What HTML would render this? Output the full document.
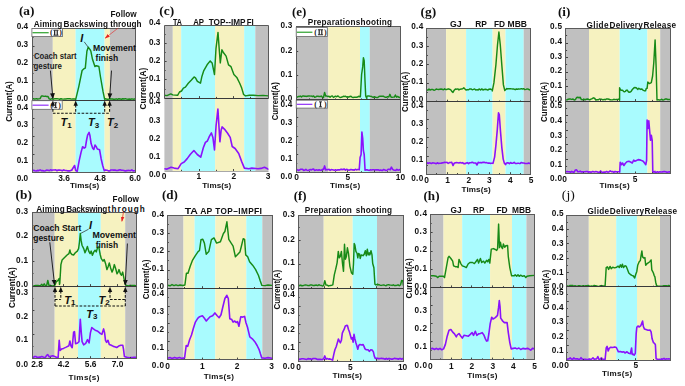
<!DOCTYPE html>
<html><head><meta charset="utf-8"><style>
html,body{margin:0;padding:0;background:#fff;}
#w{position:relative;width:685px;height:386px;overflow:hidden;}
svg{display:block;position:absolute;left:0;top:0;}
svg.t{will-change:transform;}
</style></head><body>
<div id="w">
<svg class="m" width="685" height="386" viewBox="0 0 685 386">
<rect width="685" height="386" fill="#fff"/>
<rect x="32.30" y="28.40" width="20.50" height="143.80" fill="#c0c0c0"/>
<rect x="52.80" y="28.40" width="22.80" height="143.80" fill="#f6f2c0"/>
<rect x="75.60" y="28.40" width="29.00" height="143.80" fill="#a9fbfe"/>
<rect x="104.60" y="28.40" width="5.30" height="143.80" fill="#f6f2c0"/>
<rect x="109.90" y="28.40" width="25.70" height="143.80" fill="#c0c0c0"/>
<clipPath id="cta"><rect x="32.3" y="28.4" width="103.3" height="71.80000000000001"/></clipPath>
<clipPath id="cba"><rect x="32.3" y="100.2" width="103.3" height="71.99999999999999"/></clipPath>
<g clip-path="url(#cta)">
<polyline points="32.30,98.86 33.60,98.72 34.90,99.12 36.20,98.66 37.50,99.03 38.80,98.89 40.10,98.65 41.40,96.03 42.70,96.06 44.00,96.34 45.30,96.10 46.60,96.50 47.90,96.46 49.20,98.92 50.50,99.38 51.80,98.64 53.10,99.29 54.40,98.83 55.70,98.72 57.00,98.69 58.30,98.85 59.60,99.25 60.90,98.74 62.20,99.07 63.50,99.11 64.80,98.90 66.10,99.04 67.40,98.65 68.70,98.65 70.00,98.76 71.30,99.14 72.60,98.94 73.90,98.85 75.20,99.07 75.60,99.00 75.60,99.80 78.80,86.60 82.10,70.50 83.70,68.90 85.30,68.10 86.90,51.30 88.20,47.20 90.10,49.60 90.90,51.30 92.50,59.30 94.90,66.50 96.50,65.70 98.90,66.50 100.50,77.00 103.00,91.40 104.60,99.20 104.60,98.96 105.90,98.84 107.20,99.24 108.50,99.16 109.80,98.80 111.10,99.06 112.40,99.02 113.70,99.30 115.00,99.18 116.30,98.83 117.60,99.38 118.90,98.69 120.20,98.93 121.50,99.21 122.80,98.72 124.10,98.99 125.40,98.63 126.70,99.13 128.00,99.21 129.30,99.06 130.60,99.30 131.90,98.85 133.20,99.16 134.50,99.08 135.60,99.00" fill="none" stroke="#178a17" stroke-width="1.45" stroke-linejoin="round" stroke-linecap="round"/>
</g>
<g clip-path="url(#cba)">
<polyline points="32.30,170.50 33.60,170.35 34.90,170.81 36.20,170.93 37.50,170.37 38.80,170.60 40.10,169.87 41.40,170.64 42.70,170.58 44.00,170.99 45.30,170.79 46.60,170.14 47.90,170.26 49.20,170.60 50.50,169.83 51.80,170.35 53.10,170.00 54.40,169.94 55.70,169.87 57.00,170.72 58.30,169.96 59.60,170.10 60.90,170.27 62.20,170.85 63.50,169.90 64.80,170.34 66.10,170.46 67.40,170.86 68.70,170.78 70.00,170.84 71.30,170.13 71.80,170.40 71.80,170.00 74.60,165.50 75.70,170.50 77.20,171.40 79.20,160.60 81.10,152.10 82.60,146.70 84.20,148.20 85.40,147.40 86.50,140.50 87.60,135.10 89.10,132.40 90.00,135.80 91.10,143.60 92.70,148.20 93.80,149.50 95.00,145.10 96.20,146.70 97.30,149.00 99.60,149.80 101.20,159.00 102.70,165.50 104.30,170.70 105.80,169.90 105.80,170.30 107.10,170.23 108.40,170.86 109.70,170.95 111.00,169.98 112.30,170.01 113.60,170.08 114.90,170.08 116.20,170.38 117.50,170.51 118.80,170.12 120.10,169.80 121.40,170.30 122.70,170.24 124.00,170.48 125.30,170.94 126.60,170.63 127.90,170.42 129.20,170.54 130.50,170.61 131.80,169.86 133.10,170.88 134.40,170.74 135.60,170.40" fill="none" stroke="#8a12fc" stroke-width="1.6" stroke-linejoin="round" stroke-linecap="round"/>
</g>
<line x1="32.30" y1="37.5" x2="33.60" y2="37.5" stroke="#333" stroke-width="0.9"/>
<line x1="32.30" y1="46.5" x2="34.50" y2="46.5" stroke="#333" stroke-width="0.9"/>
<line x1="32.30" y1="55.5" x2="33.60" y2="55.5" stroke="#333" stroke-width="0.9"/>
<line x1="32.30" y1="64.5" x2="34.50" y2="64.5" stroke="#333" stroke-width="0.9"/>
<line x1="32.30" y1="73.5" x2="33.60" y2="73.5" stroke="#333" stroke-width="0.9"/>
<line x1="32.30" y1="82.5" x2="34.50" y2="82.5" stroke="#333" stroke-width="0.9"/>
<line x1="32.30" y1="91.5" x2="33.60" y2="91.5" stroke="#333" stroke-width="0.9"/>
<line x1="32.30" y1="109.5" x2="33.60" y2="109.5" stroke="#333" stroke-width="0.9"/>
<line x1="32.30" y1="118.5" x2="34.50" y2="118.5" stroke="#333" stroke-width="0.9"/>
<line x1="32.30" y1="127.5" x2="33.60" y2="127.5" stroke="#333" stroke-width="0.9"/>
<line x1="32.30" y1="136.5" x2="34.50" y2="136.5" stroke="#333" stroke-width="0.9"/>
<line x1="32.30" y1="145.5" x2="33.60" y2="145.5" stroke="#333" stroke-width="0.9"/>
<line x1="32.30" y1="154.5" x2="34.50" y2="154.5" stroke="#333" stroke-width="0.9"/>
<line x1="32.30" y1="163.5" x2="33.60" y2="163.5" stroke="#333" stroke-width="0.9"/>
<rect x="32.5" y="28.5" width="103.0" height="144.0" fill="none" stroke="#5a5a5a" stroke-width="1"/>
<line x1="32.5" y1="100.5" x2="135.5" y2="100.5" stroke="#3a3a3a" stroke-width="1"/>
<rect x="164.40" y="25.40" width="8.40" height="145.60" fill="#c0c0c0"/>
<rect x="172.80" y="25.40" width="8.40" height="145.60" fill="#f6f2c0"/>
<rect x="181.20" y="25.40" width="33.90" height="145.60" fill="#a9fbfe"/>
<rect x="215.10" y="25.40" width="29.10" height="145.60" fill="#f6f2c0"/>
<rect x="244.20" y="25.40" width="11.10" height="145.60" fill="#a9fbfe"/>
<rect x="255.30" y="25.40" width="13.10" height="145.60" fill="#c0c0c0"/>
<clipPath id="ctc"><rect x="164.4" y="25.4" width="103.99999999999997" height="72.69999999999999"/></clipPath>
<clipPath id="cbc"><rect x="164.4" y="98.1" width="103.99999999999997" height="72.9"/></clipPath>
<g clip-path="url(#ctc)">
<polyline points="164.40,95.30 167.00,95.60 170.80,93.90 172.70,94.90 177.60,95.30 179.50,92.00 181.50,91.00 183.40,88.10 185.40,87.10 188.30,83.20 191.20,80.30 194.10,77.00 195.50,77.80 197.40,81.30 200.50,83.20 201.90,76.40 203.80,70.60 207.10,64.80 210.20,60.90 212.10,62.90 214.50,74.50 216.00,48.30 218.00,32.40 219.30,50.20 220.30,62.90 221.90,49.80 223.20,52.20 226.10,56.10 228.50,64.80 231.00,66.70 233.90,74.50 236.80,77.40 239.70,83.20 241.70,88.10 243.60,94.50 245.50,95.90 249.40,95.30 253.30,95.30 258.00,95.60 263.00,95.40 268.40,95.90" fill="none" stroke="#178a17" stroke-width="1.45" stroke-linejoin="round" stroke-linecap="round"/>
</g>
<g clip-path="url(#cbc)">
<polyline points="164.40,168.70 167.00,169.10 171.10,167.30 174.10,168.10 178.10,168.70 181.20,163.60 184.20,162.00 187.20,158.60 190.20,154.50 193.90,150.50 197.30,154.50 200.70,157.20 203.40,147.50 205.40,142.40 207.40,141.00 209.40,136.40 211.40,132.90 212.90,137.40 214.50,149.90 216.10,125.30 217.90,109.10 218.90,125.30 219.90,141.80 221.10,130.30 222.10,126.90 224.60,129.30 227.60,133.30 230.20,137.40 232.20,146.50 235.10,148.50 238.70,153.50 241.70,161.60 244.40,168.10 248.80,168.70 251.80,168.10 257.90,168.70 261.00,168.40 264.50,167.30 268.40,169.30" fill="none" stroke="#8a12fc" stroke-width="1.6" stroke-linejoin="round" stroke-linecap="round"/>
</g>
<line x1="164.40" y1="34.5" x2="165.70" y2="34.5" stroke="#333" stroke-width="0.9"/>
<line x1="164.40" y1="43.5" x2="166.60" y2="43.5" stroke="#333" stroke-width="0.9"/>
<line x1="164.40" y1="52.5" x2="165.70" y2="52.5" stroke="#333" stroke-width="0.9"/>
<line x1="164.40" y1="61.5" x2="166.60" y2="61.5" stroke="#333" stroke-width="0.9"/>
<line x1="164.40" y1="70.5" x2="165.70" y2="70.5" stroke="#333" stroke-width="0.9"/>
<line x1="164.40" y1="79.5" x2="166.60" y2="79.5" stroke="#333" stroke-width="0.9"/>
<line x1="164.40" y1="89.5" x2="165.70" y2="89.5" stroke="#333" stroke-width="0.9"/>
<line x1="199.5" y1="171" x2="199.5" y2="169.0" stroke="#333" stroke-width="0.9"/>
<line x1="199.5" y1="98.1" x2="199.5" y2="96.1" stroke="#333" stroke-width="0.9"/>
<line x1="233.5" y1="171" x2="233.5" y2="169.0" stroke="#333" stroke-width="0.9"/>
<line x1="233.5" y1="98.1" x2="233.5" y2="96.1" stroke="#333" stroke-width="0.9"/>
<line x1="181.5" y1="171" x2="181.5" y2="169.8" stroke="#333" stroke-width="0.9"/>
<line x1="181.5" y1="98.1" x2="181.5" y2="96.89999999999999" stroke="#333" stroke-width="0.9"/>
<line x1="216.5" y1="171" x2="216.5" y2="169.8" stroke="#333" stroke-width="0.9"/>
<line x1="216.5" y1="98.1" x2="216.5" y2="96.89999999999999" stroke="#333" stroke-width="0.9"/>
<line x1="250.5" y1="171" x2="250.5" y2="169.8" stroke="#333" stroke-width="0.9"/>
<line x1="250.5" y1="98.1" x2="250.5" y2="96.89999999999999" stroke="#333" stroke-width="0.9"/>
<path d="M164.5,98.5 V25.5 H268.5 V98.5" fill="none" stroke="#5a5a5a" stroke-width="1"/>
<path d="M164.5,171.5 H268.5" fill="none" stroke="#a8a8a8" stroke-width="1"/>
<line x1="164.5" y1="98.5" x2="268.5" y2="98.5" stroke="#3a3a3a" stroke-width="1"/>
<rect x="296.00" y="26.70" width="32.30" height="145.70" fill="#c0c0c0"/>
<rect x="328.30" y="26.70" width="31.70" height="145.70" fill="#f6f2c0"/>
<rect x="360.00" y="26.70" width="9.80" height="145.70" fill="#a9fbfe"/>
<rect x="369.80" y="26.70" width="30.60" height="145.70" fill="#c0c0c0"/>
<clipPath id="cte"><rect x="296" y="26.7" width="104.39999999999998" height="72.89999999999999"/></clipPath>
<clipPath id="cbe"><rect x="296" y="99.6" width="104.39999999999998" height="72.80000000000001"/></clipPath>
<g clip-path="url(#cte)">
<polyline points="296.00,97.30 297.10,97.18 298.20,96.53 299.30,96.54 300.40,96.07 301.50,96.91 302.60,96.00 303.70,96.01 304.80,96.23 305.90,96.16 307.00,96.44 308.10,95.98 309.20,95.90 310.30,96.14 311.40,96.06 312.50,96.48 313.60,95.94 314.70,97.30 315.80,96.88 316.90,96.14 318.00,96.30 319.10,96.46 320.20,96.48 321.30,96.10 322.40,97.26 323.50,97.49 324.60,92.47 325.70,96.04 326.80,96.06 327.90,96.45 329.00,96.32 330.10,97.23 331.20,96.16 332.30,95.94 333.40,97.42 334.50,96.75 335.60,96.13 336.70,96.77 337.80,95.94 338.90,96.74 340.00,97.47 341.10,97.28 342.20,97.01 343.30,96.32 344.40,96.49 345.50,96.17 346.60,97.14 347.70,96.75 348.80,97.15 349.90,96.43 351.00,96.26 352.10,97.20 353.20,97.48 354.30,97.26 355.40,97.19 356.50,97.21 357.60,97.08 358.70,96.26 359.80,96.73 360.40,96.70 360.40,96.50 361.60,74.50 362.70,66.90 363.40,57.70 364.20,60.70 365.00,80.70 365.70,96.00 366.80,98.40 366.80,96.47 367.90,95.95 369.00,95.94 370.10,96.35 371.20,96.31 372.30,97.01 373.40,97.43 374.50,96.62 375.60,97.40 376.70,97.48 377.80,97.43 378.90,96.48 380.00,96.25 381.10,96.26 382.20,96.21 383.30,96.23 384.40,96.90 385.50,97.34 386.60,97.24 387.70,96.67 388.80,96.94 389.90,94.34 391.00,96.96 392.10,97.36 393.20,97.15 394.30,97.10 395.40,94.99 396.50,97.16 397.60,96.43 398.70,97.18 399.80,97.45 400.40,96.70" fill="none" stroke="#178a17" stroke-width="1.45" stroke-linejoin="round" stroke-linecap="round"/>
</g>
<g clip-path="url(#cbe)">
<polyline points="296.00,169.65 297.10,169.66 298.20,170.43 299.30,170.11 300.40,169.34 301.50,169.28 302.60,169.31 303.70,170.37 304.80,170.23 305.90,169.30 307.00,170.26 308.10,170.47 309.20,170.02 310.30,169.59 311.40,169.87 312.50,169.28 313.60,169.12 314.70,170.46 315.80,170.01 316.90,169.84 318.00,170.41 319.10,169.71 320.20,170.32 321.30,170.26 322.40,169.40 323.50,169.45 324.60,165.94 325.70,169.92 326.80,169.46 327.90,169.69 329.00,169.28 330.10,170.37 331.20,169.60 332.30,169.74 333.40,169.92 334.50,170.37 335.60,169.69 336.70,170.38 337.80,169.80 338.90,169.84 340.00,169.83 341.10,169.13 342.20,169.72 343.30,169.36 344.40,169.11 345.50,170.22 346.60,169.34 347.70,169.76 348.80,170.12 349.90,169.88 351.00,169.56 352.10,169.83 353.20,169.88 354.30,170.20 355.40,169.25 356.50,169.88 357.60,169.45 358.70,169.49 359.20,169.80 359.20,169.80 360.10,157.60 361.10,154.50 361.90,132.00 362.70,138.40 363.40,150.70 364.20,154.50 365.00,169.00 365.00,170.18 366.10,169.81 367.20,169.89 368.30,170.16 369.40,170.38 370.50,169.72 371.60,169.96 372.70,169.81 373.80,169.82 374.90,170.07 376.00,169.73 377.10,169.85 378.20,169.77 379.30,170.42 380.40,170.08 381.50,170.33 382.60,170.42 383.70,169.46 384.80,169.88 385.90,170.42 387.00,170.28 388.10,169.29 389.20,169.27 390.30,169.72 391.40,167.14 392.50,169.20 393.60,170.04 394.70,170.20 395.80,170.36 396.90,169.32 398.00,170.10 399.10,170.02 400.20,169.30 400.40,169.80" fill="none" stroke="#8a12fc" stroke-width="1.6" stroke-linejoin="round" stroke-linecap="round"/>
</g>
<line x1="296.00" y1="38.5" x2="297.30" y2="38.5" stroke="#333" stroke-width="0.9"/>
<line x1="296.00" y1="51.5" x2="298.20" y2="51.5" stroke="#333" stroke-width="0.9"/>
<line x1="296.00" y1="63.5" x2="297.30" y2="63.5" stroke="#333" stroke-width="0.9"/>
<line x1="296.00" y1="75.5" x2="298.20" y2="75.5" stroke="#333" stroke-width="0.9"/>
<line x1="296.00" y1="87.5" x2="297.30" y2="87.5" stroke="#333" stroke-width="0.9"/>
<line x1="296.00" y1="108.5" x2="297.30" y2="108.5" stroke="#333" stroke-width="0.9"/>
<line x1="296.00" y1="117.5" x2="298.20" y2="117.5" stroke="#333" stroke-width="0.9"/>
<line x1="296.00" y1="126.5" x2="297.30" y2="126.5" stroke="#333" stroke-width="0.9"/>
<line x1="296.00" y1="136.5" x2="298.20" y2="136.5" stroke="#333" stroke-width="0.9"/>
<line x1="296.00" y1="145.5" x2="297.30" y2="145.5" stroke="#333" stroke-width="0.9"/>
<line x1="296.00" y1="154.5" x2="298.20" y2="154.5" stroke="#333" stroke-width="0.9"/>
<line x1="296.00" y1="163.5" x2="297.30" y2="163.5" stroke="#333" stroke-width="0.9"/>
<line x1="322.5" y1="172.4" x2="322.5" y2="170.4" stroke="#333" stroke-width="0.9"/>
<line x1="322.5" y1="99.6" x2="322.5" y2="97.6" stroke="#333" stroke-width="0.9"/>
<line x1="347.5" y1="172.4" x2="347.5" y2="170.4" stroke="#333" stroke-width="0.9"/>
<line x1="347.5" y1="99.6" x2="347.5" y2="97.6" stroke="#333" stroke-width="0.9"/>
<line x1="374.5" y1="172.4" x2="374.5" y2="170.4" stroke="#333" stroke-width="0.9"/>
<line x1="374.5" y1="99.6" x2="374.5" y2="97.6" stroke="#333" stroke-width="0.9"/>
<line x1="309.5" y1="172.4" x2="309.5" y2="171.20000000000002" stroke="#333" stroke-width="0.9"/>
<line x1="309.5" y1="99.6" x2="309.5" y2="98.39999999999999" stroke="#333" stroke-width="0.9"/>
<line x1="335.5" y1="172.4" x2="335.5" y2="171.20000000000002" stroke="#333" stroke-width="0.9"/>
<line x1="335.5" y1="99.6" x2="335.5" y2="98.39999999999999" stroke="#333" stroke-width="0.9"/>
<line x1="361.5" y1="172.4" x2="361.5" y2="171.20000000000002" stroke="#333" stroke-width="0.9"/>
<line x1="361.5" y1="99.6" x2="361.5" y2="98.39999999999999" stroke="#333" stroke-width="0.9"/>
<line x1="387.5" y1="172.4" x2="387.5" y2="171.20000000000002" stroke="#333" stroke-width="0.9"/>
<line x1="387.5" y1="99.6" x2="387.5" y2="98.39999999999999" stroke="#333" stroke-width="0.9"/>
<rect x="296.5" y="26.5" width="104.0" height="146.0" fill="none" stroke="#5a5a5a" stroke-width="1"/>
<line x1="296.5" y1="99.5" x2="400.5" y2="99.5" stroke="#3a3a3a" stroke-width="1"/>
<rect x="426.60" y="28.00" width="19.50" height="146.20" fill="#c0c0c0"/>
<rect x="446.10" y="28.00" width="20.00" height="146.20" fill="#f6f2c0"/>
<rect x="466.10" y="28.00" width="26.50" height="146.20" fill="#a9fbfe"/>
<rect x="492.60" y="28.00" width="12.90" height="146.20" fill="#f6f2c0"/>
<rect x="505.50" y="28.00" width="18.20" height="146.20" fill="#a9fbfe"/>
<rect x="523.70" y="28.00" width="7.10" height="146.20" fill="#c0c0c0"/>
<clipPath id="ctg"><rect x="426.6" y="28" width="104.19999999999993" height="73.7"/></clipPath>
<clipPath id="cbg"><rect x="426.6" y="101.7" width="104.19999999999993" height="72.49999999999999"/></clipPath>
<g clip-path="url(#ctg)">
<polyline points="426.60,90.04 427.80,90.15 429.00,89.11 430.20,90.13 431.40,89.36 432.60,89.48 433.80,90.19 435.00,89.97 436.20,89.03 437.40,89.40 438.60,89.52 439.80,89.27 441.00,89.07 442.20,89.25 443.40,89.81 444.60,88.83 445.80,89.58 447.00,89.42 448.20,88.83 449.40,89.26 450.60,89.67 451.80,91.39 453.00,92.40 454.20,90.16 455.40,88.95 456.60,89.17 457.80,88.86 459.00,89.89 460.20,89.18 461.40,88.98 462.60,88.78 463.80,87.86 465.00,89.01 466.20,90.09 467.40,89.60 468.60,89.78 469.80,88.93 471.00,88.88 472.20,89.76 473.40,89.40 474.60,88.90 475.80,90.11 477.00,89.69 478.20,89.92 479.40,88.92 480.60,90.00 481.80,88.89 483.00,90.01 484.20,89.44 485.40,89.27 486.60,89.57 487.80,90.10 489.00,89.18 490.20,88.98 491.40,89.54 492.30,89.50 492.30,90.90 493.90,82.90 495.90,64.90 497.50,45.00 498.90,32.00 500.30,45.00 501.80,64.90 503.40,84.90 504.80,90.50 506.80,88.50 506.80,88.93 508.00,88.75 509.20,88.83 510.40,88.67 511.60,88.88 512.80,89.04 514.00,89.03 515.20,89.66 516.40,89.01 517.60,89.30 518.80,88.85 520.00,89.09 521.20,88.63 522.40,88.95 523.60,88.62 524.80,89.63 526.00,89.37 527.20,88.87 528.40,89.26 529.60,89.91 530.80,89.30" fill="none" stroke="#178a17" stroke-width="1.45" stroke-linejoin="round" stroke-linecap="round"/>
</g>
<g clip-path="url(#cbg)">
<polyline points="426.60,162.45 427.80,163.45 429.00,162.91 430.20,162.99 431.40,163.47 432.60,162.85 433.80,163.01 435.00,163.26 436.20,163.68 437.40,162.78 438.60,163.47 439.80,163.29 441.00,163.19 442.20,162.87 443.40,162.79 444.60,162.38 445.80,162.48 447.00,162.40 448.20,163.34 449.40,162.66 450.60,162.53 451.80,162.42 453.00,165.52 454.20,163.24 455.40,162.69 456.60,162.64 457.80,162.71 459.00,162.94 460.20,162.52 461.40,162.92 462.60,162.67 463.80,163.65 465.00,163.66 466.20,163.07 467.40,162.64 468.60,163.65 469.80,162.73 471.00,162.80 472.20,162.30 473.40,162.83 474.60,162.96 475.80,163.00 477.00,165.01 478.20,162.31 479.40,162.67 480.60,162.43 481.80,162.86 483.00,162.36 484.20,162.33 485.40,162.73 486.60,162.63 487.80,163.12 489.00,163.04 490.20,163.35 491.40,163.22 492.60,163.30 493.00,163.00 493.00,163.40 494.60,157.10 495.90,145.30 497.30,129.60 498.50,112.80 499.30,114.80 500.50,131.50 501.80,147.30 503.20,159.10 504.40,163.40 505.80,164.60 505.80,163.53 507.00,162.85 508.20,162.76 509.40,163.68 510.60,162.51 511.80,163.31 513.00,163.20 514.20,162.36 515.40,163.47 516.60,163.55 517.80,163.18 519.00,163.33 520.20,163.44 521.40,162.50 522.60,163.03 523.80,163.01 525.00,163.47 526.20,163.43 527.40,163.46 528.60,163.12 529.80,163.55 530.80,163.00" fill="none" stroke="#8a12fc" stroke-width="1.6" stroke-linejoin="round" stroke-linecap="round"/>
</g>
<line x1="426.60" y1="37.5" x2="427.90" y2="37.5" stroke="#333" stroke-width="0.9"/>
<line x1="426.60" y1="46.5" x2="428.80" y2="46.5" stroke="#333" stroke-width="0.9"/>
<line x1="426.60" y1="55.5" x2="427.90" y2="55.5" stroke="#333" stroke-width="0.9"/>
<line x1="426.60" y1="64.5" x2="428.80" y2="64.5" stroke="#333" stroke-width="0.9"/>
<line x1="426.60" y1="74.5" x2="427.90" y2="74.5" stroke="#333" stroke-width="0.9"/>
<line x1="426.60" y1="83.5" x2="428.80" y2="83.5" stroke="#333" stroke-width="0.9"/>
<line x1="426.60" y1="92.5" x2="427.90" y2="92.5" stroke="#333" stroke-width="0.9"/>
<line x1="426.60" y1="110.5" x2="427.90" y2="110.5" stroke="#333" stroke-width="0.9"/>
<line x1="426.60" y1="119.5" x2="428.80" y2="119.5" stroke="#333" stroke-width="0.9"/>
<line x1="426.60" y1="128.5" x2="427.90" y2="128.5" stroke="#333" stroke-width="0.9"/>
<line x1="426.60" y1="137.5" x2="428.80" y2="137.5" stroke="#333" stroke-width="0.9"/>
<line x1="426.60" y1="147.5" x2="427.90" y2="147.5" stroke="#333" stroke-width="0.9"/>
<line x1="426.60" y1="156.5" x2="428.80" y2="156.5" stroke="#333" stroke-width="0.9"/>
<line x1="426.60" y1="165.5" x2="427.90" y2="165.5" stroke="#333" stroke-width="0.9"/>
<line x1="447.5" y1="174.2" x2="447.5" y2="172.2" stroke="#333" stroke-width="0.9"/>
<line x1="447.5" y1="101.7" x2="447.5" y2="99.7" stroke="#333" stroke-width="0.9"/>
<line x1="468.5" y1="174.2" x2="468.5" y2="172.2" stroke="#333" stroke-width="0.9"/>
<line x1="468.5" y1="101.7" x2="468.5" y2="99.7" stroke="#333" stroke-width="0.9"/>
<line x1="489.5" y1="174.2" x2="489.5" y2="172.2" stroke="#333" stroke-width="0.9"/>
<line x1="489.5" y1="101.7" x2="489.5" y2="99.7" stroke="#333" stroke-width="0.9"/>
<line x1="510.5" y1="174.2" x2="510.5" y2="172.2" stroke="#333" stroke-width="0.9"/>
<line x1="510.5" y1="101.7" x2="510.5" y2="99.7" stroke="#333" stroke-width="0.9"/>
<line x1="436.5" y1="174.2" x2="436.5" y2="173.0" stroke="#333" stroke-width="0.9"/>
<line x1="436.5" y1="101.7" x2="436.5" y2="100.5" stroke="#333" stroke-width="0.9"/>
<line x1="457.5" y1="174.2" x2="457.5" y2="173.0" stroke="#333" stroke-width="0.9"/>
<line x1="457.5" y1="101.7" x2="457.5" y2="100.5" stroke="#333" stroke-width="0.9"/>
<line x1="478.5" y1="174.2" x2="478.5" y2="173.0" stroke="#333" stroke-width="0.9"/>
<line x1="478.5" y1="101.7" x2="478.5" y2="100.5" stroke="#333" stroke-width="0.9"/>
<line x1="499.5" y1="174.2" x2="499.5" y2="173.0" stroke="#333" stroke-width="0.9"/>
<line x1="499.5" y1="101.7" x2="499.5" y2="100.5" stroke="#333" stroke-width="0.9"/>
<line x1="520.5" y1="174.2" x2="520.5" y2="173.0" stroke="#333" stroke-width="0.9"/>
<line x1="520.5" y1="101.7" x2="520.5" y2="100.5" stroke="#333" stroke-width="0.9"/>
<rect x="426.5" y="28.5" width="104.0" height="146.0" fill="none" stroke="#5a5a5a" stroke-width="1"/>
<line x1="426.5" y1="101.5" x2="530.5" y2="101.5" stroke="#3a3a3a" stroke-width="1"/>
<rect x="565.80" y="28.50" width="23.20" height="145.00" fill="#c0c0c0"/>
<rect x="589.00" y="28.50" width="30.70" height="145.00" fill="#f6f2c0"/>
<rect x="619.70" y="28.50" width="27.70" height="145.00" fill="#a9fbfe"/>
<rect x="647.40" y="28.50" width="12.80" height="145.00" fill="#f6f2c0"/>
<rect x="660.20" y="28.50" width="9.80" height="145.00" fill="#c0c0c0"/>
<clipPath id="cti"><rect x="565.8" y="28.5" width="104.20000000000005" height="72.6"/></clipPath>
<clipPath id="cbi"><rect x="565.8" y="101.1" width="104.20000000000005" height="72.4"/></clipPath>
<g clip-path="url(#cti)">
<polyline points="565.80,99.86 567.00,99.87 568.20,99.22 569.40,98.94 570.60,99.09 571.80,99.40 573.00,99.05 574.20,100.07 575.40,99.68 576.60,97.48 577.80,97.29 579.00,97.72 580.20,97.30 581.40,99.65 582.60,99.82 583.80,98.99 585.00,99.93 586.20,99.25 587.40,99.00 588.60,99.27 589.80,99.92 591.00,99.19 592.20,98.67 593.40,97.84 594.60,98.26 595.80,99.97 597.00,99.76 598.20,99.80 599.40,99.01 600.60,99.11 601.80,99.26 603.00,99.94 604.20,99.33 605.40,99.69 606.60,98.92 607.80,98.98 609.00,99.28 610.20,99.84 611.40,99.87 612.60,99.85 613.80,99.31 615.00,99.62 616.20,99.55 617.40,99.55 618.60,99.07 619.60,99.60 619.60,100.30 619.60,87.80 620.55,89.76 621.50,90.30 622.50,90.26 623.50,91.30 624.43,91.83 625.37,91.42 626.30,90.30 627.27,90.10 628.23,91.56 629.20,92.30 630.17,92.04 631.13,91.48 632.10,89.80 633.05,88.71 634.00,87.80 634.97,87.58 635.93,87.68 636.90,88.40 637.87,89.40 638.83,88.28 639.80,89.00 640.73,89.41 641.67,88.89 642.60,89.80 643.60,90.39 644.60,90.90 645.43,90.88 646.27,88.57 647.10,88.40 647.80,82.10 649.40,83.60 651.30,82.70 652.60,76.00 653.80,62.50 655.10,39.90 656.10,66.40 657.00,99.90 657.00,99.98 658.20,99.61 659.40,100.06 660.60,99.84 661.80,99.28 663.00,100.08 664.20,99.58 665.40,99.03 666.60,99.00 667.80,99.59 669.00,99.54 670.00,99.60" fill="none" stroke="#178a17" stroke-width="1.45" stroke-linejoin="round" stroke-linecap="round"/>
</g>
<g clip-path="url(#cbi)">
<polyline points="565.80,171.70 567.00,171.54 568.20,171.74 569.40,171.72 570.60,172.24 571.80,171.40 573.00,172.15 574.20,172.24 575.40,169.93 576.60,169.90 577.80,171.69 579.00,171.77 580.20,171.10 581.40,171.99 582.60,171.76 583.80,171.83 585.00,171.68 586.20,171.45 587.40,171.50 588.60,172.23 589.80,171.69 591.00,172.34 592.20,171.65 593.40,171.67 594.60,171.91 595.80,171.59 597.00,171.77 598.20,172.36 599.40,172.28 600.60,170.93 601.80,172.31 603.00,172.34 604.20,171.95 605.40,172.12 606.60,171.45 607.80,172.13 609.00,171.85 610.20,170.94 611.40,171.69 612.60,171.45 613.80,172.33 615.00,171.53 616.20,171.87 617.40,171.74 618.60,171.70 619.70,171.90 619.70,172.20 620.20,162.20 621.40,164.70 622.50,163.00 623.90,165.50 625.20,163.50 626.90,161.80 628.90,161.30 631.00,162.20 632.30,163.00 633.70,160.10 634.80,161.30 636.50,160.50 638.20,159.60 640.70,160.10 643.20,161.30 644.90,163.50 645.80,164.70 646.60,160.50 647.10,120.10 648.00,128.50 648.80,120.90 649.60,130.20 650.50,140.30 651.30,135.20 652.20,140.30 652.80,172.30 655.00,171.40 655.00,172.24 656.20,172.48 657.40,171.76 658.60,172.16 659.80,171.80 661.00,172.06 662.20,171.89 663.40,171.67 664.60,171.66 665.80,171.71 667.00,172.41 668.20,172.00 669.40,171.72 670.00,172.00" fill="none" stroke="#8a12fc" stroke-width="1.6" stroke-linejoin="round" stroke-linecap="round"/>
</g>
<line x1="565.80" y1="35.5" x2="567.10" y2="35.5" stroke="#333" stroke-width="0.9"/>
<line x1="565.80" y1="43.5" x2="568.00" y2="43.5" stroke="#333" stroke-width="0.9"/>
<line x1="565.80" y1="50.5" x2="567.10" y2="50.5" stroke="#333" stroke-width="0.9"/>
<line x1="565.80" y1="57.5" x2="568.00" y2="57.5" stroke="#333" stroke-width="0.9"/>
<line x1="565.80" y1="64.5" x2="567.10" y2="64.5" stroke="#333" stroke-width="0.9"/>
<line x1="565.80" y1="72.5" x2="568.00" y2="72.5" stroke="#333" stroke-width="0.9"/>
<line x1="565.80" y1="79.5" x2="567.10" y2="79.5" stroke="#333" stroke-width="0.9"/>
<line x1="565.80" y1="86.5" x2="568.00" y2="86.5" stroke="#333" stroke-width="0.9"/>
<line x1="565.80" y1="93.5" x2="567.10" y2="93.5" stroke="#333" stroke-width="0.9"/>
<line x1="565.80" y1="108.5" x2="567.10" y2="108.5" stroke="#333" stroke-width="0.9"/>
<line x1="565.80" y1="115.5" x2="568.00" y2="115.5" stroke="#333" stroke-width="0.9"/>
<line x1="565.80" y1="122.5" x2="567.10" y2="122.5" stroke="#333" stroke-width="0.9"/>
<line x1="565.80" y1="130.5" x2="568.00" y2="130.5" stroke="#333" stroke-width="0.9"/>
<line x1="565.80" y1="137.5" x2="567.10" y2="137.5" stroke="#333" stroke-width="0.9"/>
<line x1="565.80" y1="144.5" x2="568.00" y2="144.5" stroke="#333" stroke-width="0.9"/>
<line x1="565.80" y1="151.5" x2="567.10" y2="151.5" stroke="#333" stroke-width="0.9"/>
<line x1="565.80" y1="159.5" x2="568.00" y2="159.5" stroke="#333" stroke-width="0.9"/>
<line x1="565.80" y1="166.5" x2="567.10" y2="166.5" stroke="#333" stroke-width="0.9"/>
<line x1="600.5" y1="173.5" x2="600.5" y2="171.5" stroke="#333" stroke-width="0.9"/>
<line x1="600.5" y1="101.1" x2="600.5" y2="99.1" stroke="#333" stroke-width="0.9"/>
<line x1="635.5" y1="173.5" x2="635.5" y2="171.5" stroke="#333" stroke-width="0.9"/>
<line x1="635.5" y1="101.1" x2="635.5" y2="99.1" stroke="#333" stroke-width="0.9"/>
<line x1="583.5" y1="173.5" x2="583.5" y2="172.3" stroke="#333" stroke-width="0.9"/>
<line x1="583.5" y1="101.1" x2="583.5" y2="99.89999999999999" stroke="#333" stroke-width="0.9"/>
<line x1="617.5" y1="173.5" x2="617.5" y2="172.3" stroke="#333" stroke-width="0.9"/>
<line x1="617.5" y1="101.1" x2="617.5" y2="99.89999999999999" stroke="#333" stroke-width="0.9"/>
<line x1="652.5" y1="173.5" x2="652.5" y2="172.3" stroke="#333" stroke-width="0.9"/>
<line x1="652.5" y1="101.1" x2="652.5" y2="99.89999999999999" stroke="#333" stroke-width="0.9"/>
<rect x="565.5" y="28.5" width="105.0" height="145.0" fill="none" stroke="#5a5a5a" stroke-width="1"/>
<line x1="565.5" y1="101.5" x2="670.5" y2="101.5" stroke="#3a3a3a" stroke-width="1"/>
<rect x="32.20" y="212.90" width="22.50" height="145.30" fill="#c0c0c0"/>
<rect x="54.70" y="212.90" width="23.30" height="145.30" fill="#f6f2c0"/>
<rect x="78.00" y="212.90" width="22.80" height="145.30" fill="#a9fbfe"/>
<rect x="100.80" y="212.90" width="24.40" height="145.30" fill="#f6f2c0"/>
<rect x="125.20" y="212.90" width="11.00" height="145.30" fill="#c0c0c0"/>
<clipPath id="ctb"><rect x="32.2" y="212.9" width="103.99999999999999" height="73.20000000000002"/></clipPath>
<clipPath id="cbb"><rect x="32.2" y="286.1" width="103.99999999999999" height="72.09999999999997"/></clipPath>
<g clip-path="url(#ctb)">
<polyline points="32.20,286.08 33.40,286.15 34.60,285.76 35.80,285.55 37.00,285.58 38.20,285.51 39.40,285.69 40.60,285.51 41.80,284.33 43.00,285.85 44.20,283.77 45.40,285.74 46.60,285.74 47.80,280.41 49.00,285.69 50.20,285.49 51.40,285.64 52.60,286.13 53.80,285.54 54.40,285.80 54.40,285.80 55.20,284.50 56.30,281.70 57.50,280.90 58.40,279.70 59.10,278.50 59.50,284.40 59.80,283.20 60.90,264.60 62.10,260.00 64.30,257.80 66.80,255.30 68.90,253.60 69.90,249.90 70.50,252.80 71.90,254.50 73.60,255.00 75.30,252.80 77.30,251.10 78.60,248.60 79.50,241.80 80.30,233.40 81.10,240.20 82.00,245.20 83.70,248.60 85.00,252.80 86.20,249.90 87.40,246.50 88.70,251.10 90.10,253.60 91.20,251.10 92.40,255.30 93.80,251.90 95.10,250.30 96.30,251.90 97.50,247.70 98.80,246.90 100.20,254.50 101.30,258.70 103.00,261.20 104.20,259.50 105.60,263.70 106.90,269.60 108.10,266.80 109.30,262.90 110.60,267.90 112.00,272.10 113.10,269.60 114.30,264.60 115.70,268.80 117.00,273.80 118.20,271.80 119.00,269.60 120.40,273.80 121.50,275.20 122.70,272.10 123.70,277.20 124.90,283.10 126.20,285.50 126.20,285.60 127.40,285.70 128.60,285.89 129.80,285.37 131.00,285.42 132.20,285.40 133.40,285.52 134.60,285.56 135.80,285.96 136.20,285.60" fill="none" stroke="#178a17" stroke-width="1.45" stroke-linejoin="round" stroke-linecap="round"/>
</g>
<g clip-path="url(#cbb)">
<polyline points="32.20,357.35 33.40,357.37 34.60,356.52 35.80,356.53 37.00,357.21 38.20,357.40 39.40,356.97 40.60,357.09 41.80,356.50 43.00,356.89 44.20,357.43 45.40,357.33 46.60,355.47 47.80,354.61 49.00,356.65 50.00,357.00 50.00,356.50 52.70,355.80 54.70,356.50 58.10,357.90 59.20,340.30 60.10,350.40 61.50,349.10 63.50,348.40 66.20,347.10 68.90,345.70 69.90,341.00 70.90,345.70 72.20,347.70 73.60,332.20 74.50,331.60 75.60,343.70 77.60,343.00 79.00,341.70 80.30,319.40 81.30,332.90 82.10,341.70 83.70,344.80 85.70,343.40 87.50,339.70 89.10,343.00 90.40,332.90 91.80,327.50 93.40,328.90 95.20,330.20 97.20,330.90 98.80,332.20 100.50,333.60 101.90,334.30 103.60,328.90 104.60,332.90 105.50,340.30 106.60,342.30 108.00,340.30 109.30,344.40 111.30,345.30 113.40,346.40 114.70,346.70 116.70,347.50 118.70,346.10 120.80,345.30 122.80,345.30 123.50,349.10 124.40,356.50 126.80,357.20 126.80,357.32 128.00,357.48 129.20,357.74 130.40,357.52 131.60,357.45 132.80,357.56 134.00,357.26 135.20,357.35 136.20,357.30" fill="none" stroke="#8a12fc" stroke-width="1.6" stroke-linejoin="round" stroke-linecap="round"/>
</g>
<line x1="32.20" y1="225.5" x2="33.50" y2="225.5" stroke="#333" stroke-width="0.9"/>
<line x1="32.20" y1="237.5" x2="34.40" y2="237.5" stroke="#333" stroke-width="0.9"/>
<line x1="32.20" y1="249.5" x2="33.50" y2="249.5" stroke="#333" stroke-width="0.9"/>
<line x1="32.20" y1="261.5" x2="34.40" y2="261.5" stroke="#333" stroke-width="0.9"/>
<line x1="32.20" y1="273.5" x2="33.50" y2="273.5" stroke="#333" stroke-width="0.9"/>
<line x1="32.20" y1="298.5" x2="33.50" y2="298.5" stroke="#333" stroke-width="0.9"/>
<line x1="32.20" y1="310.5" x2="34.40" y2="310.5" stroke="#333" stroke-width="0.9"/>
<line x1="32.20" y1="322.5" x2="33.50" y2="322.5" stroke="#333" stroke-width="0.9"/>
<line x1="32.20" y1="334.5" x2="34.40" y2="334.5" stroke="#333" stroke-width="0.9"/>
<line x1="32.20" y1="346.5" x2="33.50" y2="346.5" stroke="#333" stroke-width="0.9"/>
<line x1="63.5" y1="358.2" x2="63.5" y2="356.2" stroke="#333" stroke-width="0.9"/>
<line x1="63.5" y1="286.1" x2="63.5" y2="284.1" stroke="#333" stroke-width="0.9"/>
<line x1="90.5" y1="358.2" x2="90.5" y2="356.2" stroke="#333" stroke-width="0.9"/>
<line x1="90.5" y1="286.1" x2="90.5" y2="284.1" stroke="#333" stroke-width="0.9"/>
<line x1="117.5" y1="358.2" x2="117.5" y2="356.2" stroke="#333" stroke-width="0.9"/>
<line x1="117.5" y1="286.1" x2="117.5" y2="284.1" stroke="#333" stroke-width="0.9"/>
<line x1="50.5" y1="358.2" x2="50.5" y2="357.0" stroke="#333" stroke-width="0.9"/>
<line x1="50.5" y1="286.1" x2="50.5" y2="284.90000000000003" stroke="#333" stroke-width="0.9"/>
<line x1="77.5" y1="358.2" x2="77.5" y2="357.0" stroke="#333" stroke-width="0.9"/>
<line x1="77.5" y1="286.1" x2="77.5" y2="284.90000000000003" stroke="#333" stroke-width="0.9"/>
<line x1="104.5" y1="358.2" x2="104.5" y2="357.0" stroke="#333" stroke-width="0.9"/>
<line x1="104.5" y1="286.1" x2="104.5" y2="284.90000000000003" stroke="#333" stroke-width="0.9"/>
<line x1="130.5" y1="358.2" x2="130.5" y2="357.0" stroke="#333" stroke-width="0.9"/>
<line x1="130.5" y1="286.1" x2="130.5" y2="284.90000000000003" stroke="#333" stroke-width="0.9"/>
<rect x="32.5" y="212.5" width="104.0" height="146.0" fill="none" stroke="#5a5a5a" stroke-width="1"/>
<line x1="32.5" y1="286.5" x2="136.5" y2="286.5" stroke="#3a3a3a" stroke-width="1"/>
<rect x="167.50" y="215.40" width="16.00" height="144.20" fill="#c0c0c0"/>
<rect x="183.50" y="215.40" width="11.10" height="144.20" fill="#f6f2c0"/>
<rect x="194.60" y="215.40" width="20.70" height="144.20" fill="#a9fbfe"/>
<rect x="215.30" y="215.40" width="31.00" height="144.20" fill="#f6f2c0"/>
<rect x="246.30" y="215.40" width="16.00" height="144.20" fill="#a9fbfe"/>
<rect x="262.30" y="215.40" width="9.70" height="144.20" fill="#c0c0c0"/>
<clipPath id="ctd"><rect x="167.5" y="215.4" width="104.5" height="72.79999999999998"/></clipPath>
<clipPath id="cbd"><rect x="167.5" y="288.2" width="104.5" height="71.40000000000003"/></clipPath>
<g clip-path="url(#ctd)">
<polyline points="167.50,285.30 170.00,285.80 172.00,284.60 174.00,285.60 176.00,284.80 178.00,285.60 180.00,285.00 182.90,285.50 184.90,285.00 186.40,273.30 188.00,273.30 190.30,266.00 192.30,260.70 195.20,255.80 198.10,251.60 199.50,250.50 201.00,239.70 202.80,239.20 204.40,243.10 206.20,254.20 208.80,251.60 211.40,239.70 214.00,237.90 216.60,243.10 220.40,241.80 223.40,233.50 224.90,231.50 226.90,221.80 228.80,239.30 231.20,243.20 233.10,246.10 235.40,256.80 239.90,252.10 241.20,247.00 243.20,238.70 244.60,239.50 245.70,254.90 247.70,256.80 249.60,261.70 252.60,265.20 255.50,269.40 258.40,275.30 260.30,281.10 261.90,285.40 265.00,285.60 268.00,285.00 272.00,285.40" fill="none" stroke="#178a17" stroke-width="1.45" stroke-linejoin="round" stroke-linecap="round"/>
</g>
<g clip-path="url(#cbd)">
<polyline points="167.50,358.30 170.00,357.60 172.00,358.40 174.50,357.40 177.00,358.30 179.50,357.60 182.00,358.40 184.60,357.90 186.20,345.50 187.70,346.40 189.60,339.70 191.50,335.00 193.40,328.20 195.40,322.10 197.70,318.30 199.60,316.70 202.40,315.80 204.40,318.30 206.30,321.00 208.20,318.70 210.10,316.70 212.60,315.80 214.90,312.90 217.20,315.80 219.10,317.70 221.00,314.80 223.00,306.20 224.90,298.50 226.80,295.30 228.30,298.50 229.80,318.70 231.80,319.60 233.10,322.10 234.40,321.00 236.40,322.50 237.50,321.50 238.90,326.30 240.80,316.70 242.70,317.10 244.60,316.40 245.90,322.50 247.50,327.30 249.80,336.90 252.30,338.80 254.80,341.70 257.10,345.50 259.00,349.30 260.50,354.10 261.80,357.90 265.00,358.20 268.00,357.60 272.00,358.30" fill="none" stroke="#8a12fc" stroke-width="1.6" stroke-linejoin="round" stroke-linecap="round"/>
</g>
<line x1="167.50" y1="224.5" x2="168.80" y2="224.5" stroke="#333" stroke-width="0.9"/>
<line x1="167.50" y1="233.5" x2="169.70" y2="233.5" stroke="#333" stroke-width="0.9"/>
<line x1="167.50" y1="242.5" x2="168.80" y2="242.5" stroke="#333" stroke-width="0.9"/>
<line x1="167.50" y1="251.5" x2="169.70" y2="251.5" stroke="#333" stroke-width="0.9"/>
<line x1="167.50" y1="260.5" x2="168.80" y2="260.5" stroke="#333" stroke-width="0.9"/>
<line x1="167.50" y1="270.5" x2="169.70" y2="270.5" stroke="#333" stroke-width="0.9"/>
<line x1="167.50" y1="279.5" x2="168.80" y2="279.5" stroke="#333" stroke-width="0.9"/>
<line x1="167.50" y1="297.5" x2="168.80" y2="297.5" stroke="#333" stroke-width="0.9"/>
<line x1="167.50" y1="306.5" x2="169.70" y2="306.5" stroke="#333" stroke-width="0.9"/>
<line x1="167.50" y1="314.5" x2="168.80" y2="314.5" stroke="#333" stroke-width="0.9"/>
<line x1="167.50" y1="323.5" x2="169.70" y2="323.5" stroke="#333" stroke-width="0.9"/>
<line x1="167.50" y1="332.5" x2="168.80" y2="332.5" stroke="#333" stroke-width="0.9"/>
<line x1="167.50" y1="341.5" x2="169.70" y2="341.5" stroke="#333" stroke-width="0.9"/>
<line x1="167.50" y1="350.5" x2="168.80" y2="350.5" stroke="#333" stroke-width="0.9"/>
<line x1="202.5" y1="359.6" x2="202.5" y2="357.6" stroke="#333" stroke-width="0.9"/>
<line x1="202.5" y1="288.2" x2="202.5" y2="286.2" stroke="#333" stroke-width="0.9"/>
<line x1="237.5" y1="359.6" x2="237.5" y2="357.6" stroke="#333" stroke-width="0.9"/>
<line x1="237.5" y1="288.2" x2="237.5" y2="286.2" stroke="#333" stroke-width="0.9"/>
<line x1="184.5" y1="359.6" x2="184.5" y2="358.40000000000003" stroke="#333" stroke-width="0.9"/>
<line x1="184.5" y1="288.2" x2="184.5" y2="287.0" stroke="#333" stroke-width="0.9"/>
<line x1="219.5" y1="359.6" x2="219.5" y2="358.40000000000003" stroke="#333" stroke-width="0.9"/>
<line x1="219.5" y1="288.2" x2="219.5" y2="287.0" stroke="#333" stroke-width="0.9"/>
<line x1="254.5" y1="359.6" x2="254.5" y2="358.40000000000003" stroke="#333" stroke-width="0.9"/>
<line x1="254.5" y1="288.2" x2="254.5" y2="287.0" stroke="#333" stroke-width="0.9"/>
<rect x="167.5" y="215.5" width="105.0" height="144.0" fill="none" stroke="#5a5a5a" stroke-width="1"/>
<line x1="167.5" y1="288.5" x2="272.5" y2="288.5" stroke="#3a3a3a" stroke-width="1"/>
<rect x="298.40" y="215.90" width="25.30" height="145.10" fill="#c0c0c0"/>
<rect x="323.70" y="215.90" width="29.00" height="145.10" fill="#f6f2c0"/>
<rect x="352.70" y="215.90" width="24.30" height="145.10" fill="#a9fbfe"/>
<rect x="377.00" y="215.90" width="26.30" height="145.10" fill="#c0c0c0"/>
<clipPath id="ctf"><rect x="298.4" y="215.9" width="104.90000000000003" height="72.29999999999998"/></clipPath>
<clipPath id="cbf"><rect x="298.4" y="288.2" width="104.90000000000003" height="72.80000000000001"/></clipPath>
<g clip-path="url(#ctf)">
<polyline points="298.40,285.40 298.40,284.85 299.60,285.74 300.80,285.08 302.00,285.90 303.20,285.57 304.40,285.16 305.60,284.95 306.80,285.10 308.00,285.56 309.20,285.64 310.40,284.93 311.60,284.88 312.80,285.43 314.00,285.50 315.20,285.27 316.40,285.07 317.60,285.52 318.80,284.81 320.00,285.16 321.20,285.35 322.40,285.95 323.60,285.57 324.80,280.67 326.00,285.08 327.20,285.10 328.40,285.95 329.60,285.65 330.70,285.40 330.70,285.60 332.80,284.90 334.30,274.90 335.70,269.20 337.10,262.80 338.30,251.40 339.30,257.80 340.30,256.40 341.40,251.40 342.50,263.50 343.50,271.30 344.50,244.30 345.40,259.20 346.40,256.40 347.40,247.80 348.50,253.50 349.90,266.30 351.40,272.70 352.80,274.20 353.50,263.50 354.20,243.50 354.90,245.00 355.90,251.40 357.10,253.50 357.80,257.80 358.50,253.50 359.60,254.20 360.20,258.50 361.30,254.90 363.00,255.70 364.20,254.20 365.30,250.70 366.30,255.70 367.30,249.20 368.20,254.90 369.20,252.80 369.90,254.90 371.00,250.70 372.00,254.90 372.70,263.50 373.90,267.80 374.90,284.10 375.90,284.90 377.70,284.10 377.70,284.97 378.90,284.63 380.10,285.20 381.30,285.41 382.50,285.10 383.70,284.91 384.90,285.40 386.10,285.71 387.30,284.87 388.50,284.64 389.70,285.01 390.90,285.10 392.10,285.42 393.30,284.84 394.50,285.56 395.70,285.49 396.90,285.21 398.10,284.85 399.30,285.76 400.50,284.97 401.70,280.38 402.90,281.01 403.30,285.20" fill="none" stroke="#178a17" stroke-width="1.45" stroke-linejoin="round" stroke-linecap="round"/>
</g>
<g clip-path="url(#cbf)">
<polyline points="298.40,358.79 299.60,359.45 300.80,359.00 302.00,358.69 303.20,358.72 304.40,358.92 305.60,359.17 306.80,359.45 308.00,358.65 309.20,358.89 310.40,358.71 311.60,359.47 312.80,358.64 314.00,358.55 315.20,358.56 316.40,358.89 317.60,359.40 318.80,359.38 320.00,359.23 321.20,359.50 322.40,359.43 323.60,358.83 324.80,355.94 326.00,359.25 327.20,358.53 328.40,359.16 329.60,358.88 330.00,359.00 330.00,359.00 332.60,360.10 333.90,353.90 334.90,349.70 336.20,346.70 337.50,342.20 338.40,339.00 339.30,340.90 340.40,342.80 341.40,340.30 342.30,333.10 343.20,331.20 344.20,329.20 345.30,326.00 346.60,325.40 347.50,325.60 348.40,329.20 349.40,331.80 350.50,335.70 351.40,339.00 352.30,337.70 353.10,342.20 354.00,334.40 354.90,339.00 355.90,342.80 356.90,346.10 357.80,349.30 358.80,345.40 360.00,344.50 361.70,345.00 363.00,344.50 363.90,346.10 365.00,348.90 366.30,349.70 367.80,349.70 369.50,351.30 370.80,349.70 372.10,350.00 373.40,351.90 374.30,356.20 375.30,358.40 377.90,358.40 377.90,358.67 379.10,358.63 380.30,358.47 381.50,358.30 382.70,358.58 383.90,358.65 385.10,359.26 386.30,358.42 387.50,359.26 388.70,358.51 389.90,358.66 391.10,359.12 392.30,359.12 393.50,358.73 394.70,358.35 395.90,358.77 397.10,358.67 398.30,359.22 399.50,358.49 400.70,358.66 401.90,359.20 403.10,358.33 403.30,358.80" fill="none" stroke="#8a12fc" stroke-width="1.6" stroke-linejoin="round" stroke-linecap="round"/>
</g>
<line x1="298.40" y1="227.5" x2="299.70" y2="227.5" stroke="#333" stroke-width="0.9"/>
<line x1="298.40" y1="240.5" x2="300.60" y2="240.5" stroke="#333" stroke-width="0.9"/>
<line x1="298.40" y1="252.5" x2="299.70" y2="252.5" stroke="#333" stroke-width="0.9"/>
<line x1="298.40" y1="264.5" x2="300.60" y2="264.5" stroke="#333" stroke-width="0.9"/>
<line x1="298.40" y1="276.5" x2="299.70" y2="276.5" stroke="#333" stroke-width="0.9"/>
<line x1="298.40" y1="297.5" x2="299.70" y2="297.5" stroke="#333" stroke-width="0.9"/>
<line x1="298.40" y1="306.5" x2="300.60" y2="306.5" stroke="#333" stroke-width="0.9"/>
<line x1="298.40" y1="315.5" x2="299.70" y2="315.5" stroke="#333" stroke-width="0.9"/>
<line x1="298.40" y1="324.5" x2="300.60" y2="324.5" stroke="#333" stroke-width="0.9"/>
<line x1="298.40" y1="333.5" x2="299.70" y2="333.5" stroke="#333" stroke-width="0.9"/>
<line x1="298.40" y1="342.5" x2="300.60" y2="342.5" stroke="#333" stroke-width="0.9"/>
<line x1="298.40" y1="351.5" x2="299.70" y2="351.5" stroke="#333" stroke-width="0.9"/>
<line x1="324.5" y1="361" x2="324.5" y2="359.0" stroke="#333" stroke-width="0.9"/>
<line x1="324.5" y1="288.2" x2="324.5" y2="286.2" stroke="#333" stroke-width="0.9"/>
<line x1="350.5" y1="361" x2="350.5" y2="359.0" stroke="#333" stroke-width="0.9"/>
<line x1="350.5" y1="288.2" x2="350.5" y2="286.2" stroke="#333" stroke-width="0.9"/>
<line x1="376.5" y1="361" x2="376.5" y2="359.0" stroke="#333" stroke-width="0.9"/>
<line x1="376.5" y1="288.2" x2="376.5" y2="286.2" stroke="#333" stroke-width="0.9"/>
<line x1="311.5" y1="361" x2="311.5" y2="359.8" stroke="#333" stroke-width="0.9"/>
<line x1="311.5" y1="288.2" x2="311.5" y2="287.0" stroke="#333" stroke-width="0.9"/>
<line x1="337.5" y1="361" x2="337.5" y2="359.8" stroke="#333" stroke-width="0.9"/>
<line x1="337.5" y1="288.2" x2="337.5" y2="287.0" stroke="#333" stroke-width="0.9"/>
<line x1="363.5" y1="361" x2="363.5" y2="359.8" stroke="#333" stroke-width="0.9"/>
<line x1="363.5" y1="288.2" x2="363.5" y2="287.0" stroke="#333" stroke-width="0.9"/>
<line x1="389.5" y1="361" x2="389.5" y2="359.8" stroke="#333" stroke-width="0.9"/>
<line x1="389.5" y1="288.2" x2="389.5" y2="287.0" stroke="#333" stroke-width="0.9"/>
<rect x="298.5" y="215.5" width="105.0" height="146.0" fill="none" stroke="#5a5a5a" stroke-width="1"/>
<line x1="298.5" y1="288.5" x2="403.5" y2="288.5" stroke="#3a3a3a" stroke-width="1"/>
<rect x="430.40" y="214.60" width="13.10" height="145.00" fill="#c0c0c0"/>
<rect x="443.50" y="214.60" width="18.70" height="145.00" fill="#f6f2c0"/>
<rect x="462.20" y="214.60" width="27.90" height="145.00" fill="#a9fbfe"/>
<rect x="490.10" y="214.60" width="21.90" height="145.00" fill="#f6f2c0"/>
<rect x="512.00" y="214.60" width="14.40" height="145.00" fill="#a9fbfe"/>
<rect x="526.40" y="214.60" width="8.30" height="145.00" fill="#c0c0c0"/>
<clipPath id="cth"><rect x="430.4" y="214.6" width="104.30000000000007" height="72.79999999999998"/></clipPath>
<clipPath id="cbh"><rect x="430.4" y="287.4" width="104.30000000000007" height="72.20000000000005"/></clipPath>
<g clip-path="url(#cth)">
<polyline points="430.40,275.80 433.60,275.80 436.30,276.30 437.60,277.60 439.10,276.30 443.60,276.30 444.50,277.60 446.30,267.60 448.10,257.60 449.00,256.30 450.90,258.50 452.70,261.20 453.60,265.80 455.40,266.70 457.20,266.70 458.10,267.60 459.00,259.40 459.90,261.20 460.80,263.60 462.30,265.80 464.50,266.70 466.30,267.60 468.10,264.00 469.90,262.50 472.60,262.50 474.40,263.60 476.20,261.20 477.50,259.40 478.60,263.10 480.40,258.50 481.70,262.50 483.50,261.20 484.80,263.10 486.60,260.30 487.70,261.80 488.90,259.40 489.80,263.10 491.30,249.10 493.50,248.60 495.30,249.50 496.70,250.40 497.60,248.60 498.60,224.10 499.50,247.60 500.40,242.20 501.30,246.70 502.50,248.60 503.40,244.00 504.70,247.30 505.80,245.80 507.60,245.50 508.30,256.70 509.80,267.60 511.60,275.80 514.30,275.80 515.20,274.80 516.70,276.30 518.00,274.80 519.20,276.30 520.70,275.20 522.50,276.30 524.30,275.80 525.80,277.60 527.00,276.30 529.70,275.80 534.70,275.40" fill="none" stroke="#178a17" stroke-width="1.45" stroke-linejoin="round" stroke-linecap="round"/>
</g>
<g clip-path="url(#cbh)">
<polyline points="430.40,348.90 432.70,348.40 434.50,349.50 436.30,348.40 438.20,349.50 440.00,348.40 441.80,349.80 443.60,348.90 445.40,344.40 447.20,336.20 449.00,330.30 450.90,329.50 452.70,332.10 454.50,333.90 456.30,336.80 457.20,335.00 459.00,333.50 460.50,335.70 462.30,338.10 464.10,335.30 466.30,335.70 468.40,336.20 470.30,334.40 472.10,332.60 473.50,335.30 475.30,331.30 476.80,335.30 478.60,333.90 480.40,333.50 482.20,332.60 484.00,335.30 485.30,338.60 486.60,341.10 487.70,340.80 488.90,333.50 490.20,323.60 491.70,317.20 493.10,319.00 495.30,317.60 497.50,315.40 498.60,307.20 499.30,300.50 500.00,306.30 500.70,318.10 502.50,320.80 504.40,322.60 507.10,322.60 508.30,332.60 509.80,342.60 511.20,348.90 513.40,348.40 515.20,348.00 517.00,348.90 518.90,348.00 520.70,349.50 522.90,348.40 525.20,348.90 527.90,348.40 530.70,350.20 532.50,348.40 534.70,348.90" fill="none" stroke="#8a12fc" stroke-width="1.6" stroke-linejoin="round" stroke-linecap="round"/>
</g>
<line x1="430.40" y1="223.5" x2="431.70" y2="223.5" stroke="#333" stroke-width="0.9"/>
<line x1="430.40" y1="232.5" x2="432.60" y2="232.5" stroke="#333" stroke-width="0.9"/>
<line x1="430.40" y1="241.5" x2="431.70" y2="241.5" stroke="#333" stroke-width="0.9"/>
<line x1="430.40" y1="251.5" x2="432.60" y2="251.5" stroke="#333" stroke-width="0.9"/>
<line x1="430.40" y1="260.5" x2="431.70" y2="260.5" stroke="#333" stroke-width="0.9"/>
<line x1="430.40" y1="269.5" x2="432.60" y2="269.5" stroke="#333" stroke-width="0.9"/>
<line x1="430.40" y1="278.5" x2="431.70" y2="278.5" stroke="#333" stroke-width="0.9"/>
<line x1="430.40" y1="296.5" x2="431.70" y2="296.5" stroke="#333" stroke-width="0.9"/>
<line x1="430.40" y1="305.5" x2="432.60" y2="305.5" stroke="#333" stroke-width="0.9"/>
<line x1="430.40" y1="314.5" x2="431.70" y2="314.5" stroke="#333" stroke-width="0.9"/>
<line x1="430.40" y1="323.5" x2="432.60" y2="323.5" stroke="#333" stroke-width="0.9"/>
<line x1="430.40" y1="332.5" x2="431.70" y2="332.5" stroke="#333" stroke-width="0.9"/>
<line x1="430.40" y1="341.5" x2="432.60" y2="341.5" stroke="#333" stroke-width="0.9"/>
<line x1="430.40" y1="350.5" x2="431.70" y2="350.5" stroke="#333" stroke-width="0.9"/>
<line x1="451.5" y1="359.6" x2="451.5" y2="357.6" stroke="#333" stroke-width="0.9"/>
<line x1="451.5" y1="287.4" x2="451.5" y2="285.4" stroke="#333" stroke-width="0.9"/>
<line x1="471.5" y1="359.6" x2="471.5" y2="357.6" stroke="#333" stroke-width="0.9"/>
<line x1="471.5" y1="287.4" x2="471.5" y2="285.4" stroke="#333" stroke-width="0.9"/>
<line x1="492.5" y1="359.6" x2="492.5" y2="357.6" stroke="#333" stroke-width="0.9"/>
<line x1="492.5" y1="287.4" x2="492.5" y2="285.4" stroke="#333" stroke-width="0.9"/>
<line x1="513.5" y1="359.6" x2="513.5" y2="357.6" stroke="#333" stroke-width="0.9"/>
<line x1="513.5" y1="287.4" x2="513.5" y2="285.4" stroke="#333" stroke-width="0.9"/>
<line x1="440.5" y1="359.6" x2="440.5" y2="358.40000000000003" stroke="#333" stroke-width="0.9"/>
<line x1="440.5" y1="287.4" x2="440.5" y2="286.2" stroke="#333" stroke-width="0.9"/>
<line x1="461.5" y1="359.6" x2="461.5" y2="358.40000000000003" stroke="#333" stroke-width="0.9"/>
<line x1="461.5" y1="287.4" x2="461.5" y2="286.2" stroke="#333" stroke-width="0.9"/>
<line x1="482.5" y1="359.6" x2="482.5" y2="358.40000000000003" stroke="#333" stroke-width="0.9"/>
<line x1="482.5" y1="287.4" x2="482.5" y2="286.2" stroke="#333" stroke-width="0.9"/>
<line x1="503.5" y1="359.6" x2="503.5" y2="358.40000000000003" stroke="#333" stroke-width="0.9"/>
<line x1="503.5" y1="287.4" x2="503.5" y2="286.2" stroke="#333" stroke-width="0.9"/>
<line x1="523.5" y1="359.6" x2="523.5" y2="358.40000000000003" stroke="#333" stroke-width="0.9"/>
<line x1="523.5" y1="287.4" x2="523.5" y2="286.2" stroke="#333" stroke-width="0.9"/>
<rect x="430.5" y="214.5" width="104.0" height="145.0" fill="none" stroke="#5a5a5a" stroke-width="1"/>
<line x1="430.5" y1="287.5" x2="534.5" y2="287.5" stroke="#3a3a3a" stroke-width="1"/>
<rect x="566.60" y="215.10" width="22.20" height="145.10" fill="#c0c0c0"/>
<rect x="588.80" y="215.10" width="27.40" height="145.10" fill="#f6f2c0"/>
<rect x="616.20" y="215.10" width="20.80" height="145.10" fill="#a9fbfe"/>
<rect x="637.00" y="215.10" width="23.00" height="145.10" fill="#f6f2c0"/>
<rect x="660.00" y="215.10" width="10.50" height="145.10" fill="#c0c0c0"/>
<clipPath id="ctj"><rect x="566.6" y="215.1" width="103.89999999999998" height="71.79999999999998"/></clipPath>
<clipPath id="cbj"><rect x="566.6" y="286.9" width="103.89999999999998" height="73.30000000000001"/></clipPath>
<g clip-path="url(#ctj)">
<polyline points="566.60,285.81 567.80,286.21 569.00,286.17 570.20,285.44 571.40,285.43 572.60,285.46 573.80,286.32 575.00,285.66 576.20,286.15 577.40,286.30 578.60,285.74 579.80,285.67 581.00,286.36 582.20,286.02 583.40,285.66 584.60,286.12 585.80,285.72 587.00,285.68 588.20,285.40 589.40,286.16 590.60,286.32 591.80,286.03 593.00,286.34 594.20,285.42 595.40,285.63 596.60,285.88 597.80,286.36 599.00,286.35 600.20,285.79 601.40,285.65 602.60,285.83 603.80,285.89 605.00,286.33 605.10,285.90 605.10,286.00 606.20,267.60 607.40,266.80 608.60,269.40 610.10,266.40 611.20,268.80 612.70,267.30 614.70,267.90 616.60,267.30 618.10,266.10 619.30,267.60 620.40,264.80 621.50,267.30 622.40,264.20 623.50,267.60 625.00,265.80 626.10,266.10 627.30,269.10 628.80,273.00 630.40,274.50 631.90,275.30 633.40,276.00 634.70,278.00 635.70,274.50 636.80,271.40 637.70,265.30 639.30,261.50 640.30,260.70 641.10,255.30 641.90,251.00 642.60,256.90 643.90,258.10 644.90,257.60 645.70,265.30 646.90,263.80 648.50,262.70 650.00,261.50 651.10,259.90 651.80,269.90 652.60,271.40 653.40,273.00 654.10,275.30 654.90,276.80 655.70,282.20 656.70,286.00 656.70,285.58 657.90,286.20 659.10,286.14 660.30,286.22 661.50,286.17 662.70,286.01 663.90,285.73 665.10,285.72 666.30,285.76 667.50,286.18 668.70,285.48 669.90,285.60 670.50,285.90" fill="none" stroke="#178a17" stroke-width="1.45" stroke-linejoin="round" stroke-linecap="round"/>
</g>
<g clip-path="url(#cbj)">
<polyline points="566.60,359.40 567.80,359.00 569.00,358.85 570.20,357.94 571.40,359.06 572.60,359.58 573.80,357.89 575.00,359.01 576.20,358.87 577.40,358.88 578.60,359.20 579.80,359.37 581.00,357.69 582.20,359.13 583.40,359.30 584.60,359.34 585.80,359.40 587.00,359.48 588.20,359.33 589.40,358.90 590.60,359.47 591.80,359.04 593.00,357.80 594.20,359.39 595.40,358.96 596.60,359.00 597.80,356.52 599.00,359.51 600.20,359.26 601.40,357.82 602.60,359.59 603.80,359.21 605.00,358.99 605.10,359.20 605.10,359.50 606.20,348.00 607.10,346.40 608.20,351.00 609.20,348.40 610.80,347.20 612.70,347.50 614.70,346.90 616.30,347.50 617.30,349.50 618.40,351.80 620.40,351.50 621.90,352.10 623.90,351.80 625.00,353.00 627.00,351.80 628.80,353.30 630.40,353.60 631.60,348.00 632.20,354.50 633.10,354.10 634.20,355.20 635.30,353.30 636.20,333.40 636.80,327.30 638.00,326.00 639.30,327.00 640.80,325.70 641.90,322.70 642.60,321.10 643.40,326.50 644.50,329.10 646.00,329.60 648.00,330.30 650.00,330.00 651.10,331.90 652.10,338.80 653.40,342.60 654.60,343.40 655.40,344.90 656.10,358.70 658.00,359.50 658.00,359.45 659.20,359.32 660.40,359.59 661.60,358.88 662.80,359.18 664.00,358.27 665.20,359.53 666.40,358.83 667.60,359.03 668.80,358.90 670.00,358.95 670.50,359.20" fill="none" stroke="#8a12fc" stroke-width="1.6" stroke-linejoin="round" stroke-linecap="round"/>
</g>
<line x1="566.60" y1="222.5" x2="567.90" y2="222.5" stroke="#333" stroke-width="0.9"/>
<line x1="566.60" y1="229.5" x2="568.80" y2="229.5" stroke="#333" stroke-width="0.9"/>
<line x1="566.60" y1="236.5" x2="567.90" y2="236.5" stroke="#333" stroke-width="0.9"/>
<line x1="566.60" y1="243.5" x2="568.80" y2="243.5" stroke="#333" stroke-width="0.9"/>
<line x1="566.60" y1="251.5" x2="567.90" y2="251.5" stroke="#333" stroke-width="0.9"/>
<line x1="566.60" y1="258.5" x2="568.80" y2="258.5" stroke="#333" stroke-width="0.9"/>
<line x1="566.60" y1="265.5" x2="567.90" y2="265.5" stroke="#333" stroke-width="0.9"/>
<line x1="566.60" y1="272.5" x2="568.80" y2="272.5" stroke="#333" stroke-width="0.9"/>
<line x1="566.60" y1="279.5" x2="567.90" y2="279.5" stroke="#333" stroke-width="0.9"/>
<line x1="566.60" y1="294.5" x2="567.90" y2="294.5" stroke="#333" stroke-width="0.9"/>
<line x1="566.60" y1="301.5" x2="568.80" y2="301.5" stroke="#333" stroke-width="0.9"/>
<line x1="566.60" y1="308.5" x2="567.90" y2="308.5" stroke="#333" stroke-width="0.9"/>
<line x1="566.60" y1="316.5" x2="568.80" y2="316.5" stroke="#333" stroke-width="0.9"/>
<line x1="566.60" y1="323.5" x2="567.90" y2="323.5" stroke="#333" stroke-width="0.9"/>
<line x1="566.60" y1="330.5" x2="568.80" y2="330.5" stroke="#333" stroke-width="0.9"/>
<line x1="566.60" y1="338.5" x2="567.90" y2="338.5" stroke="#333" stroke-width="0.9"/>
<line x1="566.60" y1="345.5" x2="568.80" y2="345.5" stroke="#333" stroke-width="0.9"/>
<line x1="566.60" y1="352.5" x2="567.90" y2="352.5" stroke="#333" stroke-width="0.9"/>
<line x1="601.5" y1="360.2" x2="601.5" y2="358.2" stroke="#333" stroke-width="0.9"/>
<line x1="601.5" y1="286.9" x2="601.5" y2="284.9" stroke="#333" stroke-width="0.9"/>
<line x1="635.5" y1="360.2" x2="635.5" y2="358.2" stroke="#333" stroke-width="0.9"/>
<line x1="635.5" y1="286.9" x2="635.5" y2="284.9" stroke="#333" stroke-width="0.9"/>
<line x1="583.5" y1="360.2" x2="583.5" y2="359.0" stroke="#333" stroke-width="0.9"/>
<line x1="583.5" y1="286.9" x2="583.5" y2="285.7" stroke="#333" stroke-width="0.9"/>
<line x1="618.5" y1="360.2" x2="618.5" y2="359.0" stroke="#333" stroke-width="0.9"/>
<line x1="618.5" y1="286.9" x2="618.5" y2="285.7" stroke="#333" stroke-width="0.9"/>
<line x1="653.5" y1="360.2" x2="653.5" y2="359.0" stroke="#333" stroke-width="0.9"/>
<line x1="653.5" y1="286.9" x2="653.5" y2="285.7" stroke="#333" stroke-width="0.9"/>
<rect x="566.5" y="215.5" width="104.0" height="145.0" fill="none" stroke="#5a5a5a" stroke-width="1"/>
<line x1="566.5" y1="286.5" x2="670.5" y2="286.5" stroke="#3a3a3a" stroke-width="1"/>
<rect x="31.90" y="28.40" width="30.60" height="8.20" fill="#fff" stroke="#666" stroke-width="0.8"/>
<line x1="32.50" y1="32.70" x2="48.70" y2="32.70" stroke="#3aa83a" stroke-width="1.3"/>
<text x="49.90" y="35.40" font-family="Liberation Serif" font-weight="bold" font-size="8" fill="#222">(</text>
<text x="59.20" y="35.40" font-family="Liberation Serif" font-weight="bold" font-size="8" fill="#222">)</text>
<path d="M53.35,30.20 H58.55 M53.35,35.20 H58.55" stroke="#222" stroke-width="0.9"/>
<path d="M54.65,30.20 V35.20 M57.25,30.20 V35.20" stroke="#222" stroke-width="1.2"/>
<rect x="31.90" y="100.70" width="30.30" height="8.60" fill="#fff" stroke="#666" stroke-width="0.8"/>
<line x1="32.50" y1="105.20" x2="48.60" y2="105.20" stroke="#9a40f8" stroke-width="1.3"/>
<text x="50.20" y="107.90" font-family="Liberation Serif" font-weight="bold" font-size="8" fill="#222">(</text>
<text x="58.30" y="107.90" font-family="Liberation Serif" font-weight="bold" font-size="8" fill="#222">)</text>
<path d="M54.15,102.70 H57.15 M54.15,107.70 H57.15" stroke="#222" stroke-width="0.9"/>
<path d="M55.65,102.70 V107.70" stroke="#222" stroke-width="1.2"/>
<rect x="296.20" y="27.60" width="31.10" height="8.90" fill="#fff" stroke="#666" stroke-width="0.8"/>
<line x1="296.80" y1="32.25" x2="312.40" y2="32.25" stroke="#3aa83a" stroke-width="1.3"/>
<text x="314.20" y="34.95" font-family="Liberation Serif" font-weight="bold" font-size="8" fill="#222">(</text>
<text x="324.00" y="34.95" font-family="Liberation Serif" font-weight="bold" font-size="8" fill="#222">)</text>
<path d="M317.90,29.75 H323.10 M317.90,34.75 H323.10" stroke="#222" stroke-width="0.9"/>
<path d="M319.20,29.75 V34.75 M321.80,29.75 V34.75" stroke="#222" stroke-width="1.2"/>
<rect x="296.20" y="100.20" width="31.10" height="7.90" fill="#fff" stroke="#666" stroke-width="0.8"/>
<line x1="296.80" y1="104.35" x2="312.40" y2="104.35" stroke="#9a40f8" stroke-width="1.3"/>
<text x="314.20" y="107.05" font-family="Liberation Serif" font-weight="bold" font-size="8" fill="#222">(</text>
<text x="324.00" y="107.05" font-family="Liberation Serif" font-weight="bold" font-size="8" fill="#222">)</text>
<path d="M319.00,101.85 H322.00 M319.00,106.85 H322.00" stroke="#222" stroke-width="0.9"/>
<path d="M320.50,101.85 V106.85" stroke="#222" stroke-width="1.2"/>
<defs><marker id="ah" markerWidth="6" markerHeight="6" refX="5" refY="3" orient="auto" markerUnits="userSpaceOnUse"><path d="M0,0.6 L6,3 L0,5.4 z" fill="#111"/></marker><marker id="ahr" markerWidth="5" markerHeight="4" refX="4.5" refY="2" orient="auto" markerUnits="userSpaceOnUse"><path d="M0,0.3 L5,2 L0,3.7 z" fill="#e82020"/></marker><clipPath id="clipb"><rect x="0" y="190" width="140.5" height="30"/></clipPath></defs>
<text x="33.90" y="58.94" font-family="Liberation Sans" font-weight="bold" font-size="8.2" textLength="42.70" lengthAdjust="spacingAndGlyphs" fill="#222" >Coach start</text>
<text x="33.50" y="68.94" font-family="Liberation Sans" font-weight="bold" font-size="8.2" textLength="28.50" lengthAdjust="spacingAndGlyphs" fill="#222" >gesture</text>
<text x="93.10" y="51.24" font-family="Liberation Sans" font-weight="bold" font-size="8.2" textLength="42.90" lengthAdjust="spacingAndGlyphs" fill="#111" >Movement</text>
<text x="95.60" y="60.54" font-family="Liberation Sans" font-weight="bold" font-size="8.2" textLength="22.70" lengthAdjust="spacingAndGlyphs" fill="#111" >finish</text>
<text x="80.2" y="41.6" font-family="Liberation Sans" font-style="italic" font-weight="bold" font-size="11" fill="#111">I</text>
<line x1="84.2" y1="41.8" x2="88.3" y2="47.3" stroke="#222" stroke-width="0.7"/>
<line x1="50.4" y1="70.6" x2="52.9" y2="98.3" stroke="#111" stroke-width="0.9" marker-end="url(#ah)"/>
<line x1="111.5" y1="70.6" x2="109.6" y2="98.3" stroke="#111" stroke-width="0.9" marker-end="url(#ah)"/>
<line x1="118.2" y1="28" x2="105.2" y2="38.1" stroke="#e82020" stroke-width="0.6" marker-end="url(#ahr)"/>
<path d="M52.90,100.60 L50.70,105.80 L55.10,105.80 z" fill="#111"/>
<line x1="52.9" y1="105" x2="52.9" y2="113.3" stroke="#111" stroke-width="1.05" stroke-dasharray="2.6,1.5"/>
<path d="M75.70,100.60 L73.50,105.80 L77.90,105.80 z" fill="#111"/>
<line x1="75.7" y1="105" x2="75.7" y2="113.3" stroke="#111" stroke-width="1.05" stroke-dasharray="2.6,1.5"/>
<path d="M104.70,100.60 L102.50,105.80 L106.90,105.80 z" fill="#111"/>
<line x1="104.7" y1="105" x2="104.7" y2="113.3" stroke="#111" stroke-width="1.05" stroke-dasharray="2.6,1.5"/>
<path d="M109.60,100.60 L107.40,105.80 L111.80,105.80 z" fill="#111"/>
<line x1="109.6" y1="105" x2="109.6" y2="113.3" stroke="#111" stroke-width="1.05" stroke-dasharray="2.6,1.5"/>
<line x1="52.9" y1="113.3" x2="109.6" y2="113.3" stroke="#111" stroke-width="1.05" stroke-dasharray="2.6,1.5"/>
<text x="60.4" y="126.3" font-family="Liberation Sans" font-style="italic" font-weight="bold" font-size="11" fill="#111">T<tspan font-size="8" font-style="normal" dy="1.3">1</tspan></text>
<text x="88.1" y="126.3" font-family="Liberation Sans" font-style="italic" font-weight="bold" font-size="11" fill="#111">T<tspan font-size="8" font-style="normal" dy="1.3">3</tspan></text>
<text x="107.1" y="126.3" font-family="Liberation Sans" font-style="italic" font-weight="bold" font-size="11" fill="#111">T<tspan font-size="8" font-style="normal" dy="1.3">2</tspan></text>
<text x="33.20" y="230.94" font-family="Liberation Sans" font-weight="bold" font-size="8.2" textLength="48.30" lengthAdjust="spacingAndGlyphs" fill="#111" >Coach Start</text>
<text x="33.20" y="241.44" font-family="Liberation Sans" font-weight="bold" font-size="8.2" textLength="30.70" lengthAdjust="spacingAndGlyphs" fill="#111" >gesture</text>
<text x="92.40" y="238.24" font-family="Liberation Sans" font-weight="bold" font-size="8.2" textLength="43.60" lengthAdjust="spacingAndGlyphs" fill="#111" >Movement</text>
<text x="95.70" y="248.24" font-family="Liberation Sans" font-weight="bold" font-size="8.2" textLength="22.50" lengthAdjust="spacingAndGlyphs" fill="#111" >finish</text>
<text x="89.0" y="228.6" font-family="Liberation Sans" font-style="italic" font-weight="bold" font-size="11" fill="#111">I</text>
<line x1="88.6" y1="229.2" x2="80.9" y2="233.3" stroke="#222" stroke-width="0.7"/>
<line x1="49.8" y1="242.3" x2="54.6" y2="284.7" stroke="#111" stroke-width="0.9" marker-end="url(#ah)"/>
<line x1="127.4" y1="243.5" x2="125.2" y2="284.7" stroke="#111" stroke-width="0.9" marker-end="url(#ah)"/>
<line x1="123.6" y1="211.2" x2="121.9" y2="221.3" stroke="#e82020" stroke-width="0.7" marker-end="url(#ahr)"/>
<path d="M55.00,286.80 L52.80,292.00 L57.20,292.00 z" fill="#111"/>
<path d="M60.80,286.80 L58.60,292.00 L63.00,292.00 z" fill="#111"/>
<path d="M110.00,286.80 L107.80,292.00 L112.20,292.00 z" fill="#111"/>
<path d="M125.30,286.80 L123.10,292.00 L127.50,292.00 z" fill="#111"/>
<line x1="55" y1="291" x2="55" y2="306" stroke="#111" stroke-width="1.05" stroke-dasharray="2.6,1.5"/>
<line x1="125.3" y1="291" x2="125.3" y2="306" stroke="#111" stroke-width="1.05" stroke-dasharray="2.6,1.5"/>
<line x1="60.8" y1="291" x2="60.8" y2="299.4" stroke="#111" stroke-width="1.05" stroke-dasharray="2.6,1.5"/>
<line x1="110" y1="291" x2="110" y2="299.4" stroke="#111" stroke-width="1.05" stroke-dasharray="2.6,1.5"/>
<line x1="55" y1="306" x2="125.3" y2="306" stroke="#111" stroke-width="1.05" stroke-dasharray="2.6,1.5"/>
<line x1="55" y1="299.4" x2="60.8" y2="299.4" stroke="#111" stroke-width="1.05" stroke-dasharray="2.6,1.5"/>
<line x1="110" y1="299.4" x2="125.3" y2="299.4" stroke="#111" stroke-width="1.05" stroke-dasharray="2.6,1.5"/>
<text x="107.80" y="211.94" font-family="Liberation Sans" font-weight="bold" font-size="8.2" textLength="36.90" lengthAdjust="spacing" fill="#111">through</text>
<text x="64.2" y="303.6" font-family="Liberation Sans" font-style="italic" font-weight="bold" font-size="11" fill="#111">T<tspan font-size="8" font-style="normal" dy="1.3">1</tspan></text>
<text x="98.5" y="303.6" font-family="Liberation Sans" font-style="italic" font-weight="bold" font-size="11" fill="#111">T<tspan font-size="8" font-style="normal" dy="1.3">2</tspan></text>
<text x="86.2" y="318.1" font-family="Liberation Sans" font-style="italic" font-weight="bold" font-size="11" fill="#111">T<tspan font-size="8" font-style="normal" dy="1.3">3</tspan></text>
</svg>
<svg class="t" width="685" height="386" viewBox="0 0 685 386">
<text x="16.80" y="29.24" font-family="Liberation Sans" font-weight="bold" font-size="8.2" textLength="11.20" lengthAdjust="spacing" fill="#111">0.4</text>
<text x="16.80" y="47.34" font-family="Liberation Sans" font-weight="bold" font-size="8.2" textLength="11.20" lengthAdjust="spacing" fill="#111">0.3</text>
<text x="16.80" y="65.14" font-family="Liberation Sans" font-weight="bold" font-size="8.2" textLength="11.20" lengthAdjust="spacing" fill="#111">0.2</text>
<text x="16.80" y="83.14" font-family="Liberation Sans" font-weight="bold" font-size="8.2" textLength="11.20" lengthAdjust="spacing" fill="#111">0.1</text>
<text x="16.80" y="101.34" font-family="Liberation Sans" font-weight="bold" font-size="8.2" textLength="11.20" lengthAdjust="spacing" fill="#111">0.0</text>
<text x="16.80" y="109.54" font-family="Liberation Sans" font-weight="bold" font-size="8.2" textLength="11.20" lengthAdjust="spacing" fill="#111">0.4</text>
<text x="16.80" y="127.34" font-family="Liberation Sans" font-weight="bold" font-size="8.2" textLength="11.20" lengthAdjust="spacing" fill="#111">0.3</text>
<text x="16.80" y="145.34" font-family="Liberation Sans" font-weight="bold" font-size="8.2" textLength="11.20" lengthAdjust="spacing" fill="#111">0.2</text>
<text x="16.80" y="162.94" font-family="Liberation Sans" font-weight="bold" font-size="8.2" textLength="11.20" lengthAdjust="spacing" fill="#111">0.1</text>
<text x="16.80" y="180.54" font-family="Liberation Sans" font-weight="bold" font-size="8.2" textLength="11.20" lengthAdjust="spacing" fill="#111">0.0</text>
<text x="64.00" y="180.91" text-anchor="middle" font-family="Liberation Sans" font-weight="bold" font-size="8.4" fill="#111" >3.6</text>
<text x="100.00" y="180.91" text-anchor="middle" font-family="Liberation Sans" font-weight="bold" font-size="8.4" fill="#111" >4.8</text>
<text x="135.10" y="180.91" text-anchor="middle" font-family="Liberation Sans" font-weight="bold" font-size="8.4" fill="#111" >6.0</text>
<text x="69.90" y="187.60" font-family="Liberation Sans" font-weight="bold" font-size="8.1" textLength="29.30" lengthAdjust="spacing" fill="#111">Tims(s)</text>
<text transform="translate(11.95,121.80) rotate(-90)" x="0" y="0" font-family="Liberation Sans" font-weight="bold" font-size="8.8" textLength="40.50" lengthAdjust="spacingAndGlyphs" fill="#111">Current(A)</text>
<text x="18.90" y="14.80" font-family="Liberation Serif" font-weight="bold" font-size="13.2" textLength="15.60" lengthAdjust="spacingAndGlyphs" fill="#111">(a)</text>
<text x="33.70" y="26.54" font-family="Liberation Sans" font-weight="bold" font-size="8.2" textLength="28.50" lengthAdjust="spacing" fill="#111">Aiming</text>
<text x="63.60" y="26.54" font-family="Liberation Sans" font-weight="bold" font-size="8.2" textLength="44.50" lengthAdjust="spacing" fill="#111">Backswing</text>
<text x="110.20" y="26.54" font-family="Liberation Sans" font-weight="bold" font-size="8.2" textLength="31.40" lengthAdjust="spacing" fill="#111">through</text>
<text x="110.60" y="17.14" font-family="Liberation Sans" font-weight="bold" font-size="8.2" textLength="26.00" lengthAdjust="spacing" fill="#111">Follow</text>
<text x="148.90" y="25.14" font-family="Liberation Sans" font-weight="bold" font-size="8.2" textLength="11.50" lengthAdjust="spacing" fill="#111">0.4</text>
<text x="148.90" y="44.94" font-family="Liberation Sans" font-weight="bold" font-size="8.2" textLength="11.50" lengthAdjust="spacing" fill="#111">0.3</text>
<text x="148.90" y="62.94" font-family="Liberation Sans" font-weight="bold" font-size="8.2" textLength="11.50" lengthAdjust="spacing" fill="#111">0.2</text>
<text x="148.90" y="80.94" font-family="Liberation Sans" font-weight="bold" font-size="8.2" textLength="11.50" lengthAdjust="spacing" fill="#111">0.1</text>
<text x="148.90" y="97.54" font-family="Liberation Sans" font-weight="bold" font-size="8.2" textLength="11.50" lengthAdjust="spacing" fill="#111">0.0</text>
<text x="148.90" y="103.94" font-family="Liberation Sans" font-weight="bold" font-size="8.2" textLength="11.50" lengthAdjust="spacing" fill="#111">0.4</text>
<text x="148.90" y="122.64" font-family="Liberation Sans" font-weight="bold" font-size="8.2" textLength="11.50" lengthAdjust="spacing" fill="#111">0.3</text>
<text x="148.90" y="140.84" font-family="Liberation Sans" font-weight="bold" font-size="8.2" textLength="11.50" lengthAdjust="spacing" fill="#111">0.2</text>
<text x="148.90" y="158.54" font-family="Liberation Sans" font-weight="bold" font-size="8.2" textLength="11.50" lengthAdjust="spacing" fill="#111">0.1</text>
<text x="148.90" y="176.74" font-family="Liberation Sans" font-weight="bold" font-size="8.2" textLength="11.50" lengthAdjust="spacing" fill="#111">0.0</text>
<text x="164.20" y="179.01" text-anchor="middle" font-family="Liberation Sans" font-weight="bold" font-size="8.4" fill="#111" >0</text>
<text x="198.90" y="179.01" text-anchor="middle" font-family="Liberation Sans" font-weight="bold" font-size="8.4" fill="#111" >1</text>
<text x="233.90" y="179.01" text-anchor="middle" font-family="Liberation Sans" font-weight="bold" font-size="8.4" fill="#111" >2</text>
<text x="268.00" y="179.01" text-anchor="middle" font-family="Liberation Sans" font-weight="bold" font-size="8.4" fill="#111" >3</text>
<text x="202.20" y="188.00" font-family="Liberation Sans" font-weight="bold" font-size="8.1" textLength="29.10" lengthAdjust="spacing" fill="#111">Tims(s)</text>
<text transform="translate(145.85,109.40) rotate(-90)" x="0" y="0" font-family="Liberation Sans" font-weight="bold" font-size="8.8" textLength="41.60" lengthAdjust="spacingAndGlyphs" fill="#111">Current(A)</text>
<text x="159.30" y="14.50" font-family="Liberation Serif" font-weight="bold" font-size="13.2" textLength="14.90" lengthAdjust="spacingAndGlyphs" fill="#111">(c)</text>
<text x="173.00" y="24.54" font-family="Liberation Sans" font-weight="bold" font-size="8.2" textLength="9.00" lengthAdjust="spacingAndGlyphs" fill="#111">TA</text>
<text x="193.20" y="24.54" font-family="Liberation Sans" font-weight="bold" font-size="8.2" textLength="10.80" lengthAdjust="spacingAndGlyphs" fill="#111">AP</text>
<text x="208.70" y="24.54" font-family="Liberation Sans" font-weight="bold" font-size="8.2" textLength="36.80" lengthAdjust="spacing" fill="#111">TOP--IMP</text>
<text x="246.80" y="24.54" font-family="Liberation Sans" font-weight="bold" font-size="8.2" textLength="7.00" lengthAdjust="spacingAndGlyphs" fill="#111">FI</text>
<text x="280.40" y="27.94" font-family="Liberation Sans" font-weight="bold" font-size="8.2" textLength="11.90" lengthAdjust="spacing" fill="#111">0.3</text>
<text x="280.40" y="52.94" font-family="Liberation Sans" font-weight="bold" font-size="8.2" textLength="11.90" lengthAdjust="spacing" fill="#111">0.2</text>
<text x="280.40" y="76.94" font-family="Liberation Sans" font-weight="bold" font-size="8.2" textLength="11.90" lengthAdjust="spacing" fill="#111">0.1</text>
<text x="280.40" y="100.64" font-family="Liberation Sans" font-weight="bold" font-size="8.2" textLength="11.90" lengthAdjust="spacing" fill="#111">0.0</text>
<text x="280.40" y="107.44" font-family="Liberation Sans" font-weight="bold" font-size="8.2" textLength="11.90" lengthAdjust="spacing" fill="#111">0.4</text>
<text x="280.40" y="125.34" font-family="Liberation Sans" font-weight="bold" font-size="8.2" textLength="11.90" lengthAdjust="spacing" fill="#111">0.3</text>
<text x="280.40" y="143.14" font-family="Liberation Sans" font-weight="bold" font-size="8.2" textLength="11.90" lengthAdjust="spacing" fill="#111">0.2</text>
<text x="280.40" y="161.44" font-family="Liberation Sans" font-weight="bold" font-size="8.2" textLength="11.90" lengthAdjust="spacing" fill="#111">0.1</text>
<text x="280.40" y="178.74" font-family="Liberation Sans" font-weight="bold" font-size="8.2" textLength="11.90" lengthAdjust="spacing" fill="#111">0.0</text>
<text x="296.50" y="179.91" text-anchor="middle" font-family="Liberation Sans" font-weight="bold" font-size="8.4" fill="#111" >0</text>
<text x="347.80" y="179.91" text-anchor="middle" font-family="Liberation Sans" font-weight="bold" font-size="8.4" fill="#111" >5</text>
<text x="400.40" y="179.91" text-anchor="middle" font-family="Liberation Sans" font-weight="bold" font-size="8.4" fill="#111" >10</text>
<text x="330.00" y="188.30" font-family="Liberation Sans" font-weight="bold" font-size="8.1" textLength="30.20" lengthAdjust="spacing" fill="#111">Tims(s)</text>
<text transform="translate(277.95,120.30) rotate(-90)" x="0" y="0" font-family="Liberation Sans" font-weight="bold" font-size="8.8" textLength="38.20" lengthAdjust="spacingAndGlyphs" fill="#111">Current(A)</text>
<text x="291.90" y="15.60" font-family="Liberation Serif" font-weight="bold" font-size="13.2" textLength="14.40" lengthAdjust="spacingAndGlyphs" fill="#111">(e)</text>
<text x="307.70" y="24.54" font-family="Liberation Sans" font-weight="bold" font-size="8.2" textLength="84.40" lengthAdjust="spacing" fill="#111">Preparationshooting</text>
<text x="411.20" y="28.94" font-family="Liberation Sans" font-weight="bold" font-size="8.2" textLength="12.00" lengthAdjust="spacing" fill="#111">0.4</text>
<text x="411.20" y="47.54" font-family="Liberation Sans" font-weight="bold" font-size="8.2" textLength="12.00" lengthAdjust="spacing" fill="#111">0.3</text>
<text x="411.20" y="65.94" font-family="Liberation Sans" font-weight="bold" font-size="8.2" textLength="12.00" lengthAdjust="spacing" fill="#111">0.2</text>
<text x="411.20" y="83.74" font-family="Liberation Sans" font-weight="bold" font-size="8.2" textLength="12.00" lengthAdjust="spacing" fill="#111">0.1</text>
<text x="411.20" y="102.04" font-family="Liberation Sans" font-weight="bold" font-size="8.2" textLength="12.00" lengthAdjust="spacing" fill="#111">0.0</text>
<text x="411.20" y="108.14" font-family="Liberation Sans" font-weight="bold" font-size="8.2" textLength="12.00" lengthAdjust="spacing" fill="#111">0.4</text>
<text x="411.20" y="125.54" font-family="Liberation Sans" font-weight="bold" font-size="8.2" textLength="12.00" lengthAdjust="spacing" fill="#111">0.3</text>
<text x="411.20" y="144.14" font-family="Liberation Sans" font-weight="bold" font-size="8.2" textLength="12.00" lengthAdjust="spacing" fill="#111">0.2</text>
<text x="411.20" y="161.94" font-family="Liberation Sans" font-weight="bold" font-size="8.2" textLength="12.00" lengthAdjust="spacing" fill="#111">0.1</text>
<text x="411.20" y="180.54" font-family="Liberation Sans" font-weight="bold" font-size="8.2" textLength="12.00" lengthAdjust="spacing" fill="#111">0.0</text>
<text x="426.70" y="182.71" text-anchor="middle" font-family="Liberation Sans" font-weight="bold" font-size="8.4" fill="#111" >0</text>
<text x="447.60" y="182.71" text-anchor="middle" font-family="Liberation Sans" font-weight="bold" font-size="8.4" fill="#111" >1</text>
<text x="468.80" y="182.71" text-anchor="middle" font-family="Liberation Sans" font-weight="bold" font-size="8.4" fill="#111" >2</text>
<text x="489.30" y="182.71" text-anchor="middle" font-family="Liberation Sans" font-weight="bold" font-size="8.4" fill="#111" >3</text>
<text x="510.40" y="182.71" text-anchor="middle" font-family="Liberation Sans" font-weight="bold" font-size="8.4" fill="#111" >4</text>
<text x="531.20" y="182.71" text-anchor="middle" font-family="Liberation Sans" font-weight="bold" font-size="8.4" fill="#111" >5</text>
<text x="461.60" y="191.60" font-family="Liberation Sans" font-weight="bold" font-size="8.1" textLength="29.20" lengthAdjust="spacing" fill="#111">Tims(s)</text>
<text transform="translate(408.45,112.00) rotate(-90)" x="0" y="0" font-family="Liberation Sans" font-weight="bold" font-size="8.8" textLength="40.30" lengthAdjust="spacingAndGlyphs" fill="#111">Current(A)</text>
<text x="420.60" y="15.60" font-family="Liberation Serif" font-weight="bold" font-size="13.2" textLength="15.70" lengthAdjust="spacingAndGlyphs" fill="#111">(g)</text>
<text x="450.00" y="26.84" font-family="Liberation Sans" font-weight="bold" font-size="8.2" textLength="11.70" lengthAdjust="spacingAndGlyphs" fill="#111">GJ</text>
<text x="475.20" y="26.84" font-family="Liberation Sans" font-weight="bold" font-size="8.2" textLength="11.70" lengthAdjust="spacingAndGlyphs" fill="#111">RP</text>
<text x="493.90" y="26.84" font-family="Liberation Sans" font-weight="bold" font-size="8.2" textLength="11.10" lengthAdjust="spacingAndGlyphs" fill="#111">FD</text>
<text x="507.60" y="26.84" font-family="Liberation Sans" font-weight="bold" font-size="8.2" textLength="19.40" lengthAdjust="spacingAndGlyphs" fill="#111">MBB</text>
<text x="550.00" y="28.94" font-family="Liberation Sans" font-weight="bold" font-size="8.2" textLength="12.00" lengthAdjust="spacing" fill="#111">0.5</text>
<text x="550.00" y="43.94" font-family="Liberation Sans" font-weight="bold" font-size="8.2" textLength="12.00" lengthAdjust="spacing" fill="#111">0.4</text>
<text x="550.00" y="58.64" font-family="Liberation Sans" font-weight="bold" font-size="8.2" textLength="12.00" lengthAdjust="spacing" fill="#111">0.3</text>
<text x="550.00" y="73.14" font-family="Liberation Sans" font-weight="bold" font-size="8.2" textLength="12.00" lengthAdjust="spacing" fill="#111">0.2</text>
<text x="550.00" y="87.64" font-family="Liberation Sans" font-weight="bold" font-size="8.2" textLength="12.00" lengthAdjust="spacing" fill="#111">0.1</text>
<text x="550.00" y="101.54" font-family="Liberation Sans" font-weight="bold" font-size="8.2" textLength="12.00" lengthAdjust="spacing" fill="#111">0.0</text>
<text x="550.00" y="107.74" font-family="Liberation Sans" font-weight="bold" font-size="8.2" textLength="12.00" lengthAdjust="spacing" fill="#111">0.5</text>
<text x="550.00" y="123.24" font-family="Liberation Sans" font-weight="bold" font-size="8.2" textLength="12.00" lengthAdjust="spacing" fill="#111">0.4</text>
<text x="550.00" y="137.74" font-family="Liberation Sans" font-weight="bold" font-size="8.2" textLength="12.00" lengthAdjust="spacing" fill="#111">0.3</text>
<text x="550.00" y="152.14" font-family="Liberation Sans" font-weight="bold" font-size="8.2" textLength="12.00" lengthAdjust="spacing" fill="#111">0.2</text>
<text x="550.00" y="166.84" font-family="Liberation Sans" font-weight="bold" font-size="8.2" textLength="12.00" lengthAdjust="spacing" fill="#111">0.1</text>
<text x="550.00" y="181.04" font-family="Liberation Sans" font-weight="bold" font-size="8.2" textLength="12.00" lengthAdjust="spacing" fill="#111">0.0</text>
<text x="564.50" y="182.41" text-anchor="middle" font-family="Liberation Sans" font-weight="bold" font-size="8.4" fill="#111" >0</text>
<text x="635.00" y="182.41" text-anchor="middle" font-family="Liberation Sans" font-weight="bold" font-size="8.4" fill="#111" >5</text>
<text x="599.50" y="188.30" font-family="Liberation Sans" font-weight="bold" font-size="8.1" textLength="30.30" lengthAdjust="spacing" fill="#111">Tims(s)</text>
<text transform="translate(547.25,122.00) rotate(-90)" x="0" y="0" font-family="Liberation Sans" font-weight="bold" font-size="8.8" textLength="40.00" lengthAdjust="spacingAndGlyphs" fill="#111">Current(A)</text>
<text x="557.90" y="15.60" font-family="Liberation Serif" font-weight="bold" font-size="13.2" textLength="12.40" lengthAdjust="spacingAndGlyphs" fill="#111">(i)</text>
<text x="586.50" y="27.54" font-family="Liberation Sans" font-weight="bold" font-size="8.2" textLength="22.00" lengthAdjust="spacing" fill="#111">Glide</text>
<text x="609.60" y="27.54" font-family="Liberation Sans" font-weight="bold" font-size="8.2" textLength="33.20" lengthAdjust="spacing" fill="#111">Delivery</text>
<text x="643.50" y="27.54" font-family="Liberation Sans" font-weight="bold" font-size="8.2" textLength="32.50" lengthAdjust="spacing" fill="#111">Release</text>
<text x="16.10" y="214.34" font-family="Liberation Sans" font-weight="bold" font-size="8.2" textLength="11.90" lengthAdjust="spacing" fill="#111">0.3</text>
<text x="16.10" y="238.24" font-family="Liberation Sans" font-weight="bold" font-size="8.2" textLength="11.90" lengthAdjust="spacing" fill="#111">0.2</text>
<text x="16.10" y="263.44" font-family="Liberation Sans" font-weight="bold" font-size="8.2" textLength="11.90" lengthAdjust="spacing" fill="#111">0.1</text>
<text x="16.10" y="287.34" font-family="Liberation Sans" font-weight="bold" font-size="8.2" textLength="11.90" lengthAdjust="spacing" fill="#111">0.0</text>
<text x="16.10" y="295.14" font-family="Liberation Sans" font-weight="bold" font-size="8.2" textLength="11.90" lengthAdjust="spacing" fill="#111">0.3</text>
<text x="16.10" y="319.14" font-family="Liberation Sans" font-weight="bold" font-size="8.2" textLength="11.90" lengthAdjust="spacing" fill="#111">0.2</text>
<text x="16.10" y="342.24" font-family="Liberation Sans" font-weight="bold" font-size="8.2" textLength="11.90" lengthAdjust="spacing" fill="#111">0.1</text>
<text x="16.10" y="366.64" font-family="Liberation Sans" font-weight="bold" font-size="8.2" textLength="11.90" lengthAdjust="spacing" fill="#111">0.0</text>
<text x="37.00" y="366.71" text-anchor="middle" font-family="Liberation Sans" font-weight="bold" font-size="8.4" fill="#111" >2.8</text>
<text x="63.70" y="366.71" text-anchor="middle" font-family="Liberation Sans" font-weight="bold" font-size="8.4" fill="#111" >4.2</text>
<text x="90.60" y="366.71" text-anchor="middle" font-family="Liberation Sans" font-weight="bold" font-size="8.4" fill="#111" >5.6</text>
<text x="117.50" y="366.71" text-anchor="middle" font-family="Liberation Sans" font-weight="bold" font-size="8.4" fill="#111" >7.0</text>
<text x="68.60" y="379.50" font-family="Liberation Sans" font-weight="bold" font-size="8.1" textLength="30.80" lengthAdjust="spacing" fill="#111">Tims(s)</text>
<text transform="translate(14.55,308.00) rotate(-90)" x="0" y="0" font-family="Liberation Sans" font-weight="bold" font-size="8.8" textLength="40.70" lengthAdjust="spacingAndGlyphs" fill="#111">Current(A)</text>
<text x="15.60" y="199.40" font-family="Liberation Serif" font-weight="bold" font-size="13.2" textLength="16.30" lengthAdjust="spacingAndGlyphs" fill="#111">(b)</text>
<text x="36.30" y="211.54" font-family="Liberation Sans" font-weight="bold" font-size="8.2" textLength="28.40" lengthAdjust="spacing" fill="#111">Aiming</text>
<text x="66.20" y="211.54" font-family="Liberation Sans" font-weight="bold" font-size="8.2" textLength="41.10" lengthAdjust="spacing" fill="#111">Backswing</text>
<text x="112.60" y="201.84" font-family="Liberation Sans" font-weight="bold" font-size="8.2" textLength="26.30" lengthAdjust="spacing" fill="#111">Follow</text>
<text x="151.80" y="216.74" font-family="Liberation Sans" font-weight="bold" font-size="8.2" textLength="12.20" lengthAdjust="spacing" fill="#111">0.4</text>
<text x="151.80" y="234.94" font-family="Liberation Sans" font-weight="bold" font-size="8.2" textLength="12.20" lengthAdjust="spacing" fill="#111">0.3</text>
<text x="151.80" y="252.94" font-family="Liberation Sans" font-weight="bold" font-size="8.2" textLength="12.20" lengthAdjust="spacing" fill="#111">0.2</text>
<text x="151.80" y="270.94" font-family="Liberation Sans" font-weight="bold" font-size="8.2" textLength="12.20" lengthAdjust="spacing" fill="#111">0.1</text>
<text x="151.80" y="288.54" font-family="Liberation Sans" font-weight="bold" font-size="8.2" textLength="12.20" lengthAdjust="spacing" fill="#111">0.0</text>
<text x="151.80" y="296.14" font-family="Liberation Sans" font-weight="bold" font-size="8.2" textLength="12.20" lengthAdjust="spacing" fill="#111">0.4</text>
<text x="151.80" y="313.64" font-family="Liberation Sans" font-weight="bold" font-size="8.2" textLength="12.20" lengthAdjust="spacing" fill="#111">0.3</text>
<text x="151.80" y="332.44" font-family="Liberation Sans" font-weight="bold" font-size="8.2" textLength="12.20" lengthAdjust="spacing" fill="#111">0.2</text>
<text x="151.80" y="350.24" font-family="Liberation Sans" font-weight="bold" font-size="8.2" textLength="12.20" lengthAdjust="spacing" fill="#111">0.1</text>
<text x="151.80" y="368.44" font-family="Liberation Sans" font-weight="bold" font-size="8.2" textLength="12.20" lengthAdjust="spacing" fill="#111">0.0</text>
<text x="167.60" y="368.51" text-anchor="middle" font-family="Liberation Sans" font-weight="bold" font-size="8.4" fill="#111" >0</text>
<text x="202.30" y="368.51" text-anchor="middle" font-family="Liberation Sans" font-weight="bold" font-size="8.4" fill="#111" >1</text>
<text x="237.20" y="368.51" text-anchor="middle" font-family="Liberation Sans" font-weight="bold" font-size="8.4" fill="#111" >2</text>
<text x="271.50" y="368.51" text-anchor="middle" font-family="Liberation Sans" font-weight="bold" font-size="8.4" fill="#111" >3</text>
<text x="203.70" y="378.50" font-family="Liberation Sans" font-weight="bold" font-size="8.1" textLength="30.20" lengthAdjust="spacing" fill="#111">Tims(s)</text>
<text transform="translate(148.95,299.20) rotate(-90)" x="0" y="0" font-family="Liberation Sans" font-weight="bold" font-size="8.8" textLength="39.70" lengthAdjust="spacingAndGlyphs" fill="#111">Current(A)</text>
<text x="161.90" y="198.80" font-family="Liberation Serif" font-weight="bold" font-size="13.2" textLength="16.00" lengthAdjust="spacingAndGlyphs" fill="#111">(d)</text>
<text x="184.70" y="213.64" font-family="Liberation Sans" font-weight="bold" font-size="8.2" textLength="13.20" lengthAdjust="spacingAndGlyphs" fill="#111">TA</text>
<text x="200.30" y="213.64" font-family="Liberation Sans" font-weight="bold" font-size="8.2" textLength="11.90" lengthAdjust="spacingAndGlyphs" fill="#111">AP</text>
<text x="215.30" y="213.64" font-family="Liberation Sans" font-weight="bold" font-size="8.2" textLength="38.30" lengthAdjust="spacing" fill="#111">TOP–IMP</text>
<text x="254.10" y="213.64" font-family="Liberation Sans" font-weight="bold" font-size="8.2" textLength="7.80" lengthAdjust="spacingAndGlyphs" fill="#111">FI</text>
<text x="282.70" y="216.84" font-family="Liberation Sans" font-weight="bold" font-size="8.2" textLength="12.00" lengthAdjust="spacing" fill="#111">0.3</text>
<text x="282.70" y="241.64" font-family="Liberation Sans" font-weight="bold" font-size="8.2" textLength="12.00" lengthAdjust="spacing" fill="#111">0.2</text>
<text x="282.70" y="265.34" font-family="Liberation Sans" font-weight="bold" font-size="8.2" textLength="12.00" lengthAdjust="spacing" fill="#111">0.1</text>
<text x="282.70" y="289.64" font-family="Liberation Sans" font-weight="bold" font-size="8.2" textLength="12.00" lengthAdjust="spacing" fill="#111">0.0</text>
<text x="282.70" y="296.54" font-family="Liberation Sans" font-weight="bold" font-size="8.2" textLength="12.00" lengthAdjust="spacing" fill="#111">0.4</text>
<text x="282.70" y="313.94" font-family="Liberation Sans" font-weight="bold" font-size="8.2" textLength="12.00" lengthAdjust="spacing" fill="#111">0.3</text>
<text x="282.70" y="332.14" font-family="Liberation Sans" font-weight="bold" font-size="8.2" textLength="12.00" lengthAdjust="spacing" fill="#111">0.2</text>
<text x="282.70" y="349.64" font-family="Liberation Sans" font-weight="bold" font-size="8.2" textLength="12.00" lengthAdjust="spacing" fill="#111">0.1</text>
<text x="282.70" y="368.54" font-family="Liberation Sans" font-weight="bold" font-size="8.2" textLength="12.00" lengthAdjust="spacing" fill="#111">0.0</text>
<text x="298.60" y="369.51" text-anchor="middle" font-family="Liberation Sans" font-weight="bold" font-size="8.4" fill="#111" >0</text>
<text x="350.40" y="369.51" text-anchor="middle" font-family="Liberation Sans" font-weight="bold" font-size="8.4" fill="#111" >5</text>
<text x="402.60" y="369.51" text-anchor="middle" font-family="Liberation Sans" font-weight="bold" font-size="8.4" fill="#111" >10</text>
<text x="332.60" y="377.60" font-family="Liberation Sans" font-weight="bold" font-size="8.1" textLength="29.40" lengthAdjust="spacing" fill="#111">Tims(s)</text>
<text transform="translate(280.35,309.60) rotate(-90)" x="0" y="0" font-family="Liberation Sans" font-weight="bold" font-size="8.8" textLength="39.70" lengthAdjust="spacingAndGlyphs" fill="#111">Current(A)</text>
<text x="293.80" y="200.20" font-family="Liberation Serif" font-weight="bold" font-size="13.2" textLength="12.80" lengthAdjust="spacingAndGlyphs" fill="#111">(f)</text>
<text x="304.80" y="213.14" font-family="Liberation Sans" font-weight="bold" font-size="8.2" textLength="47.00" lengthAdjust="spacing" fill="#111">Preparation</text>
<text x="355.80" y="213.14" font-family="Liberation Sans" font-weight="bold" font-size="8.2" textLength="36.20" lengthAdjust="spacing" fill="#111">shooting</text>
<text x="414.40" y="215.74" font-family="Liberation Sans" font-weight="bold" font-size="8.2" textLength="12.60" lengthAdjust="spacing" fill="#111">0.4</text>
<text x="414.40" y="234.44" font-family="Liberation Sans" font-weight="bold" font-size="8.2" textLength="12.60" lengthAdjust="spacing" fill="#111">0.3</text>
<text x="414.40" y="252.44" font-family="Liberation Sans" font-weight="bold" font-size="8.2" textLength="12.60" lengthAdjust="spacing" fill="#111">0.2</text>
<text x="414.40" y="270.74" font-family="Liberation Sans" font-weight="bold" font-size="8.2" textLength="12.60" lengthAdjust="spacing" fill="#111">0.1</text>
<text x="414.40" y="289.24" font-family="Liberation Sans" font-weight="bold" font-size="8.2" textLength="12.60" lengthAdjust="spacing" fill="#111">0.0</text>
<text x="414.40" y="295.14" font-family="Liberation Sans" font-weight="bold" font-size="8.2" textLength="12.60" lengthAdjust="spacing" fill="#111">0.4</text>
<text x="414.40" y="312.74" font-family="Liberation Sans" font-weight="bold" font-size="8.2" textLength="12.60" lengthAdjust="spacing" fill="#111">0.3</text>
<text x="414.40" y="331.04" font-family="Liberation Sans" font-weight="bold" font-size="8.2" textLength="12.60" lengthAdjust="spacing" fill="#111">0.2</text>
<text x="414.40" y="348.84" font-family="Liberation Sans" font-weight="bold" font-size="8.2" textLength="12.60" lengthAdjust="spacing" fill="#111">0.1</text>
<text x="414.40" y="368.04" font-family="Liberation Sans" font-weight="bold" font-size="8.2" textLength="12.60" lengthAdjust="spacing" fill="#111">0.0</text>
<text x="430.40" y="368.61" text-anchor="middle" font-family="Liberation Sans" font-weight="bold" font-size="8.4" fill="#111" >0</text>
<text x="451.30" y="368.61" text-anchor="middle" font-family="Liberation Sans" font-weight="bold" font-size="8.4" fill="#111" >1</text>
<text x="471.90" y="368.61" text-anchor="middle" font-family="Liberation Sans" font-weight="bold" font-size="8.4" fill="#111" >2</text>
<text x="492.80" y="368.61" text-anchor="middle" font-family="Liberation Sans" font-weight="bold" font-size="8.4" fill="#111" >3</text>
<text x="513.40" y="368.61" text-anchor="middle" font-family="Liberation Sans" font-weight="bold" font-size="8.4" fill="#111" >4</text>
<text x="534.50" y="368.61" text-anchor="middle" font-family="Liberation Sans" font-weight="bold" font-size="8.4" fill="#111" >5</text>
<text x="467.30" y="377.60" font-family="Liberation Sans" font-weight="bold" font-size="8.1" textLength="30.10" lengthAdjust="spacing" fill="#111">Tims(s)</text>
<text transform="translate(412.15,298.40) rotate(-90)" x="0" y="0" font-family="Liberation Sans" font-weight="bold" font-size="8.8" textLength="40.20" lengthAdjust="spacingAndGlyphs" fill="#111">Current(A)</text>
<text x="423.50" y="199.70" font-family="Liberation Serif" font-weight="bold" font-size="13.2" textLength="16.00" lengthAdjust="spacingAndGlyphs" fill="#111">(h)</text>
<text x="450.60" y="213.14" font-family="Liberation Sans" font-weight="bold" font-size="8.2" textLength="11.10" lengthAdjust="spacingAndGlyphs" fill="#111">GJ</text>
<text x="473.10" y="213.14" font-family="Liberation Sans" font-weight="bold" font-size="8.2" textLength="11.20" lengthAdjust="spacingAndGlyphs" fill="#111">RP</text>
<text x="496.40" y="213.14" font-family="Liberation Sans" font-weight="bold" font-size="8.2" textLength="11.20" lengthAdjust="spacingAndGlyphs" fill="#111">FD</text>
<text x="512.00" y="213.14" font-family="Liberation Sans" font-weight="bold" font-size="8.2" textLength="19.00" lengthAdjust="spacingAndGlyphs" fill="#111">MBB</text>
<text x="551.70" y="215.74" font-family="Liberation Sans" font-weight="bold" font-size="8.2" textLength="11.80" lengthAdjust="spacing" fill="#111">0.5</text>
<text x="551.70" y="231.04" font-family="Liberation Sans" font-weight="bold" font-size="8.2" textLength="11.80" lengthAdjust="spacing" fill="#111">0.4</text>
<text x="551.70" y="245.94" font-family="Liberation Sans" font-weight="bold" font-size="8.2" textLength="11.80" lengthAdjust="spacing" fill="#111">0.3</text>
<text x="551.70" y="259.94" font-family="Liberation Sans" font-weight="bold" font-size="8.2" textLength="11.80" lengthAdjust="spacing" fill="#111">0.2</text>
<text x="551.70" y="274.74" font-family="Liberation Sans" font-weight="bold" font-size="8.2" textLength="11.80" lengthAdjust="spacing" fill="#111">0.1</text>
<text x="551.70" y="288.84" font-family="Liberation Sans" font-weight="bold" font-size="8.2" textLength="11.80" lengthAdjust="spacing" fill="#111">0.0</text>
<text x="551.70" y="295.14" font-family="Liberation Sans" font-weight="bold" font-size="8.2" textLength="11.80" lengthAdjust="spacing" fill="#111">0.5</text>
<text x="551.70" y="309.94" font-family="Liberation Sans" font-weight="bold" font-size="8.2" textLength="11.80" lengthAdjust="spacing" fill="#111">0.4</text>
<text x="551.70" y="324.04" font-family="Liberation Sans" font-weight="bold" font-size="8.2" textLength="11.80" lengthAdjust="spacing" fill="#111">0.3</text>
<text x="551.70" y="338.64" font-family="Liberation Sans" font-weight="bold" font-size="8.2" textLength="11.80" lengthAdjust="spacing" fill="#111">0.2</text>
<text x="551.70" y="353.04" font-family="Liberation Sans" font-weight="bold" font-size="8.2" textLength="11.80" lengthAdjust="spacing" fill="#111">0.1</text>
<text x="551.70" y="368.14" font-family="Liberation Sans" font-weight="bold" font-size="8.2" textLength="11.80" lengthAdjust="spacing" fill="#111">0.0</text>
<text x="566.60" y="368.21" text-anchor="middle" font-family="Liberation Sans" font-weight="bold" font-size="8.4" fill="#111" >0</text>
<text x="635.80" y="368.21" text-anchor="middle" font-family="Liberation Sans" font-weight="bold" font-size="8.4" fill="#111" >5</text>
<text x="602.00" y="376.30" font-family="Liberation Sans" font-weight="bold" font-size="8.1" textLength="30.20" lengthAdjust="spacing" fill="#111">Tims(s)</text>
<text transform="translate(548.95,309.60) rotate(-90)" x="0" y="0" font-family="Liberation Sans" font-weight="bold" font-size="8.8" textLength="39.70" lengthAdjust="spacingAndGlyphs" fill="#111">Current(A)</text>
<text x="561.80" y="199.30" font-family="Liberation Serif" font-weight="normal" font-size="13.2" textLength="13.00" lengthAdjust="spacingAndGlyphs" fill="#111">(j)</text>
<text x="587.50" y="213.64" font-family="Liberation Sans" font-weight="bold" font-size="8.2" textLength="21.50" lengthAdjust="spacing" fill="#111">Glide</text>
<text x="609.80" y="213.64" font-family="Liberation Sans" font-weight="bold" font-size="8.2" textLength="34.20" lengthAdjust="spacing" fill="#111">Delivery</text>
<text x="644.60" y="213.64" font-family="Liberation Sans" font-weight="bold" font-size="8.2" textLength="32.40" lengthAdjust="spacing" fill="#111">Release</text>
</svg>
</div>
</body></html>
